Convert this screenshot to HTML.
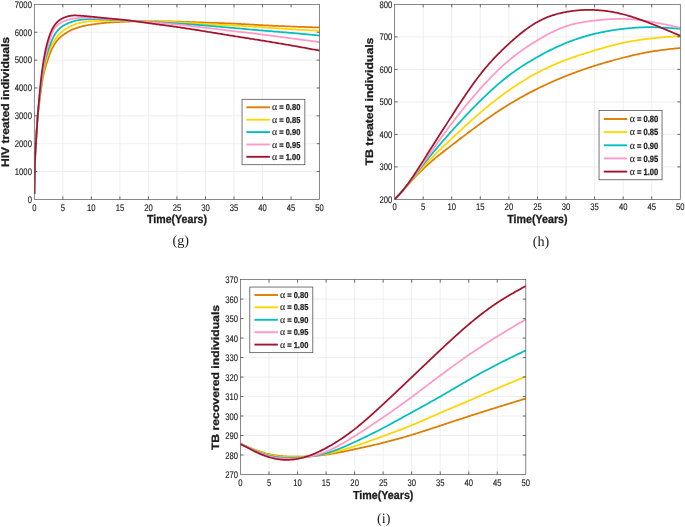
<!DOCTYPE html>
<html><head><meta charset="utf-8"><title>Figure</title>
<style>
html,body{margin:0;padding:0;background:#fff;}
svg{display:block;font-family:"Liberation Sans",sans-serif;}
text{text-rendering:geometricPrecision;}
</style></head><body>
<svg width="685" height="527" viewBox="0 0 685 527">
<rect x="0" y="0" width="685" height="527" fill="#ffffff"/>
<g opacity="0.999">
<line x1="62.83" y1="4.40" x2="62.83" y2="199.40" stroke="#ebebeb" stroke-width="0.8"/>
<line x1="91.36" y1="4.40" x2="91.36" y2="199.40" stroke="#ebebeb" stroke-width="0.8"/>
<line x1="119.89" y1="4.40" x2="119.89" y2="199.40" stroke="#ebebeb" stroke-width="0.8"/>
<line x1="148.42" y1="4.40" x2="148.42" y2="199.40" stroke="#ebebeb" stroke-width="0.8"/>
<line x1="176.95" y1="4.40" x2="176.95" y2="199.40" stroke="#ebebeb" stroke-width="0.8"/>
<line x1="205.48" y1="4.40" x2="205.48" y2="199.40" stroke="#ebebeb" stroke-width="0.8"/>
<line x1="234.01" y1="4.40" x2="234.01" y2="199.40" stroke="#ebebeb" stroke-width="0.8"/>
<line x1="262.54" y1="4.40" x2="262.54" y2="199.40" stroke="#ebebeb" stroke-width="0.8"/>
<line x1="34.30" y1="171.54" x2="319.60" y2="171.54" stroke="#ebebeb" stroke-width="0.8"/>
<line x1="34.30" y1="143.69" x2="319.60" y2="143.69" stroke="#ebebeb" stroke-width="0.8"/>
<line x1="34.30" y1="115.83" x2="319.60" y2="115.83" stroke="#ebebeb" stroke-width="0.8"/>
<line x1="34.30" y1="87.97" x2="319.60" y2="87.97" stroke="#ebebeb" stroke-width="0.8"/>
<line x1="34.30" y1="60.11" x2="319.60" y2="60.11" stroke="#ebebeb" stroke-width="0.8"/>
<line x1="34.30" y1="32.26" x2="319.60" y2="32.26" stroke="#ebebeb" stroke-width="0.8"/>
<clipPath id="cg"><rect x="34.3" y="4.4" width="286.3" height="195.0"/></clipPath><g clip-path="url(#cg)">
<path d="M34.40,194.00 L34.41,193.48 L34.42,192.96 L34.42,192.44 L34.43,191.92 L34.44,191.40 L34.45,190.87 L34.45,190.35 L34.46,189.83 L34.47,189.31 L34.48,188.79 L34.48,188.27 L34.49,187.75 L34.50,187.23 L34.51,186.71 L34.52,186.19 L34.52,185.66 L34.53,185.14 L34.54,184.62 L34.55,184.10 L34.56,183.58 L34.57,183.06 L34.57,182.54 L34.58,182.02 L34.59,181.50 L34.60,180.98 L34.61,180.45 L34.62,179.93 L34.62,179.41 L34.63,178.89 L34.64,178.37 L34.65,177.85 L34.66,177.33 L34.67,176.81 L34.68,176.29 L34.69,175.77 L34.70,175.25 L34.71,174.72 L34.72,174.20 L34.73,173.68 L34.74,173.16 L34.75,172.64 L34.76,172.12 L34.77,171.60 L34.78,171.08 L34.79,170.56 L34.80,170.04 L34.81,169.51 L34.82,168.99 L34.83,168.47 L34.84,167.95 L34.85,167.43 L34.87,166.91 L34.88,166.39 L34.89,165.87 L34.90,165.35 L34.92,164.83 L34.93,164.30 L34.94,163.78 L34.96,163.26 L34.97,162.74 L34.99,162.22 L35.00,161.70 L35.02,161.18 L35.04,160.66 L35.05,160.14 L35.07,159.62 L35.09,159.10 L35.11,158.58 L35.13,158.06 L35.15,157.53 L35.17,157.01 L35.19,156.49 L35.21,155.97 L35.23,155.45 L35.26,154.93 L35.28,154.41 L35.31,153.89 L35.33,153.37 L35.36,152.85 L35.39,152.33 L35.42,151.81 L35.44,151.29 L35.47,150.77 L35.50,150.25 L35.53,149.73 L35.56,149.21 L35.60,148.69 L35.63,148.17 L35.66,147.65 L35.69,147.13 L35.72,146.61 L35.75,146.09 L35.78,145.57 L35.81,145.05 L35.84,144.53 L35.87,144.01 L35.90,143.49 L35.93,142.97 L35.96,142.45 L35.99,141.93 L36.02,141.41 L36.05,140.89 L36.08,140.36 L36.11,139.84 L36.14,139.32 L36.16,138.80 L36.19,138.28 L36.22,137.76 L36.25,137.24 L36.27,136.72 L36.30,136.20 L36.33,135.68 L36.36,135.16 L36.38,134.64 L36.41,134.12 L36.44,133.60 L36.47,133.08 L36.50,132.56 L36.53,132.04 L36.56,131.52 L36.59,130.99 L36.62,130.47 L36.65,129.95 L36.68,129.43 L36.71,128.91 L36.74,128.39 L36.77,127.87 L36.80,127.35 L36.84,126.83 L36.87,126.31 L36.90,125.79 L36.94,125.27 L36.97,124.75 L37.01,124.23 L37.05,123.71 L37.08,123.19 L37.12,122.67 L37.16,122.16 L37.20,121.64 L37.24,121.12 L37.28,120.60 L37.33,120.08 L37.37,119.56 L37.42,119.04 L37.46,118.52 L37.51,118.00 L37.56,117.48 L37.61,116.97 L37.66,116.45 L37.71,115.93 L37.76,115.41 L37.81,114.89 L37.87,114.38 L37.92,113.86 L37.98,113.34 L38.04,112.82 L38.10,112.31 L38.16,111.79 L38.22,111.27 L38.28,110.75 L38.35,110.24 L38.41,109.72 L38.48,109.20 L38.54,108.69 L38.61,108.17 L38.67,107.65 L38.74,107.14 L38.81,106.62 L38.88,106.10 L38.94,105.59 L39.01,105.07 L39.08,104.55 L39.15,104.04 L39.22,103.52 L39.29,103.00 L39.36,102.49 L39.43,101.97 L39.50,101.46 L39.57,100.94 L39.64,100.42 L39.71,99.91 L39.78,99.39 L39.85,98.87 L39.92,98.36 L39.99,97.84 L40.06,97.32 L40.12,96.80 L40.19,96.29 L40.26,95.77 L40.32,95.25 L40.39,94.74 L40.46,94.22 L40.52,93.70 L40.59,93.18 L40.66,92.67 L40.72,92.15 L40.79,91.63 L40.86,91.11 L40.92,90.60 L40.99,90.08 L41.06,89.56 L41.13,89.05 L41.20,88.53 L41.27,88.01 L41.34,87.50 L41.41,86.98 L41.49,86.46 L41.56,85.95 L41.64,85.43 L41.71,84.92 L41.79,84.40 L41.87,83.89 L41.95,83.37 L42.03,82.86 L42.12,82.35 L42.20,81.83 L42.29,81.32 L42.38,80.81 L42.47,80.29 L42.56,79.78 L42.66,79.27 L42.75,78.76 L42.85,78.25 L42.96,77.74 L43.06,77.23 L43.17,76.72 L43.27,76.21 L43.38,75.70 L43.50,75.19 L43.61,74.68 L43.73,74.17 L43.85,73.67 L43.97,73.16 L44.09,72.65 L44.22,72.15 L44.34,71.64 L44.47,71.14 L44.60,70.63 L44.73,70.13 L44.87,69.62 L45.00,69.12 L45.14,68.62 L45.28,68.11 L45.42,67.61 L45.56,67.11 L45.70,66.61 L45.85,66.11 L45.99,65.61 L46.14,65.11 L46.29,64.61 L46.44,64.11 L46.59,63.61 L46.74,63.11 L46.90,62.61 L47.05,62.11 L47.21,61.61 L47.37,61.12 L47.53,60.62 L47.68,60.12 L47.85,59.63 L48.01,59.13 L48.17,58.63 L48.33,58.14 L48.50,57.65 L48.67,57.15 L48.84,56.66 L49.01,56.17 L49.19,55.68 L49.36,55.19 L49.54,54.70 L49.72,54.21 L49.91,53.72 L50.10,53.24 L50.29,52.75 L50.48,52.27 L50.68,51.78 L50.88,51.30 L51.09,50.82 L51.30,50.35 L51.51,49.87 L51.73,49.39 L51.95,48.92 L52.18,48.45 L52.41,47.98 L52.64,47.52 L52.88,47.05 L53.13,46.59 L53.38,46.14 L53.63,45.68 L53.90,45.23 L54.16,44.78 L54.43,44.34 L54.71,43.89 L55.00,43.46 L55.29,43.02 L55.58,42.59 L55.88,42.16 L56.19,41.74 L56.51,41.33 L56.83,40.92 L57.16,40.51 L57.49,40.11 L57.83,39.72 L58.18,39.33 L58.54,38.95 L58.90,38.57 L59.27,38.21 L59.64,37.85 L60.03,37.50 L60.42,37.15 L60.82,36.81 L61.22,36.48 L61.62,36.16 L62.04,35.84 L62.45,35.52 L62.87,35.21 L63.29,34.90 L63.72,34.60 L64.14,34.30 L64.57,34.00 L65.00,33.71 L65.44,33.42 L65.88,33.14 L66.32,32.86 L66.76,32.58 L67.20,32.30 L67.64,32.03 L68.09,31.75 L68.54,31.49 L68.99,31.22 L69.44,30.96 L69.89,30.71 L70.35,30.46 L70.81,30.22 L71.28,29.98 L71.75,29.76 L72.22,29.55 L72.70,29.35 L73.18,29.16 L73.67,28.97 L74.16,28.80 L74.65,28.63 L75.14,28.46 L75.64,28.30 L76.14,28.14 L76.64,27.98 L77.13,27.82 L77.63,27.67 L78.13,27.51 L78.63,27.35 L79.12,27.20 L79.62,27.05 L80.12,26.90 L80.62,26.75 L81.12,26.61 L81.63,26.47 L82.13,26.34 L82.63,26.21 L83.14,26.08 L83.64,25.96 L84.15,25.85 L84.66,25.74 L85.17,25.63 L85.68,25.53 L86.19,25.43 L86.71,25.34 L87.22,25.25 L87.73,25.16 L88.25,25.08 L88.76,24.99 L89.28,24.91 L89.79,24.83 L90.31,24.75 L90.83,24.68 L91.34,24.60 L91.86,24.53 L92.37,24.45 L92.89,24.38 L93.41,24.30 L93.92,24.23 L94.44,24.16 L94.96,24.08 L95.47,24.01 L95.99,23.94 L96.50,23.87 L97.02,23.81 L97.54,23.74 L98.06,23.67 L98.57,23.61 L99.09,23.54 L99.61,23.48 L100.12,23.42 L100.64,23.36 L101.16,23.30 L101.68,23.24 L102.19,23.18 L102.71,23.13 L103.23,23.07 L103.75,23.02 L104.27,22.97 L104.78,22.92 L105.30,22.87 L105.82,22.83 L106.34,22.79 L106.86,22.74 L107.38,22.70 L107.90,22.66 L108.42,22.62 L108.94,22.59 L109.46,22.55 L109.98,22.52 L110.50,22.48 L111.02,22.45 L111.54,22.42 L112.06,22.39 L112.58,22.36 L113.10,22.33 L113.62,22.30 L114.14,22.27 L114.66,22.24 L115.18,22.22 L115.70,22.19 L116.22,22.16 L116.74,22.14 L117.26,22.11 L117.78,22.08 L118.30,22.06 L118.82,22.03 L119.34,22.01 L119.87,21.98 L120.39,21.95 L120.91,21.93 L121.43,21.90 L121.95,21.87 L122.47,21.85 L122.99,21.82 L123.51,21.79 L124.03,21.77 L124.55,21.74 L125.07,21.72 L125.59,21.69 L126.11,21.67 L126.63,21.64 L127.15,21.62 L127.67,21.60 L128.19,21.57 L128.71,21.55 L129.23,21.53 L129.75,21.51 L130.27,21.49 L130.80,21.47 L131.32,21.45 L131.84,21.44 L132.36,21.42 L132.88,21.40 L133.40,21.39 L133.92,21.37 L134.44,21.36 L134.96,21.35 L135.48,21.34 L136.00,21.32 L136.52,21.31 L137.05,21.30 L137.57,21.29 L138.09,21.28 L138.61,21.27 L139.13,21.27 L139.65,21.26 L140.17,21.25 L140.69,21.25 L141.21,21.24 L141.73,21.23 L142.26,21.23 L142.78,21.22 L143.30,21.22 L143.82,21.22 L144.34,21.21 L144.86,21.21 L145.38,21.21 L145.90,21.21 L146.42,21.20 L146.95,21.20 L147.47,21.20 L147.99,21.20 L148.51,21.20 L149.03,21.20 L149.55,21.20 L150.07,21.20 L150.59,21.20 L151.11,21.20 L151.64,21.20 L152.16,21.20 L152.68,21.21 L153.20,21.21 L153.72,21.21 L154.24,21.21 L154.76,21.22 L155.28,21.22 L155.80,21.22 L156.90,21.23 L158.00,21.24 L159.10,21.25 L160.21,21.26 L161.31,21.28 L162.41,21.29 L163.51,21.31 L164.61,21.32 L165.71,21.34 L166.81,21.36 L167.91,21.38 L169.01,21.40 L170.11,21.43 L171.21,21.45 L172.31,21.48 L173.40,21.50 L174.50,21.53 L175.60,21.56 L176.70,21.59 L177.80,21.62 L178.90,21.66 L180.00,21.69 L181.10,21.73 L182.20,21.76 L183.30,21.80 L184.40,21.84 L185.50,21.87 L186.60,21.91 L187.70,21.95 L188.80,21.99 L189.90,22.03 L191.00,22.07 L192.10,22.11 L193.20,22.16 L194.30,22.20 L195.40,22.24 L196.50,22.28 L197.59,22.32 L198.69,22.36 L199.79,22.40 L200.89,22.44 L201.99,22.48 L203.09,22.52 L204.19,22.56 L205.29,22.60 L206.39,22.64 L207.49,22.67 L208.59,22.71 L209.69,22.75 L210.79,22.78 L211.89,22.82 L212.99,22.85 L214.09,22.89 L215.19,22.92 L216.29,22.96 L217.39,22.99 L218.49,23.03 L219.59,23.07 L220.69,23.10 L221.79,23.14 L222.88,23.18 L223.98,23.22 L225.08,23.26 L226.18,23.30 L227.28,23.34 L228.38,23.38 L229.48,23.43 L230.58,23.47 L231.68,23.52 L232.78,23.57 L233.88,23.62 L234.98,23.67 L236.07,23.72 L237.17,23.78 L238.27,23.83 L239.37,23.89 L240.47,23.95 L241.57,24.01 L242.67,24.07 L243.77,24.13 L244.86,24.19 L245.96,24.26 L247.06,24.32 L248.16,24.38 L249.26,24.45 L250.36,24.51 L251.45,24.58 L252.55,24.64 L253.65,24.71 L254.75,24.77 L255.85,24.83 L256.95,24.90 L258.04,24.96 L259.14,25.02 L260.24,25.09 L261.34,25.15 L262.44,25.21 L263.54,25.27 L264.63,25.33 L265.73,25.38 L266.83,25.44 L267.93,25.49 L269.03,25.55 L270.13,25.60 L271.23,25.66 L272.33,25.71 L273.43,25.76 L274.52,25.81 L275.62,25.86 L276.72,25.91 L277.82,25.96 L278.92,26.01 L280.02,26.06 L281.12,26.10 L282.22,26.15 L283.32,26.20 L284.42,26.24 L285.52,26.28 L286.62,26.33 L287.71,26.37 L288.81,26.42 L289.91,26.46 L291.01,26.50 L292.11,26.54 L293.21,26.58 L294.31,26.62 L295.41,26.67 L296.51,26.71 L297.61,26.75 L298.71,26.79 L299.81,26.82 L300.91,26.86 L302.01,26.90 L303.11,26.94 L304.21,26.98 L305.31,27.02 L306.41,27.06 L307.50,27.09 L308.60,27.13 L309.70,27.17 L310.80,27.21 L311.90,27.24 L313.00,27.28 L314.10,27.32 L315.20,27.35 L316.30,27.39 L317.40,27.43 L318.50,27.46 L319.60,27.50" fill="none" stroke="#DE7D00" stroke-width="1.75" stroke-linejoin="round" stroke-linecap="butt"/>
<path d="M34.40,194.00 L34.41,193.48 L34.42,192.96 L34.42,192.44 L34.43,191.92 L34.44,191.40 L34.45,190.87 L34.45,190.35 L34.46,189.83 L34.47,189.31 L34.48,188.79 L34.48,188.27 L34.49,187.75 L34.50,187.23 L34.51,186.71 L34.52,186.19 L34.52,185.66 L34.53,185.14 L34.54,184.62 L34.55,184.10 L34.56,183.58 L34.56,183.06 L34.57,182.54 L34.58,182.02 L34.59,181.50 L34.60,180.98 L34.61,180.45 L34.62,179.93 L34.62,179.41 L34.63,178.89 L34.64,178.37 L34.65,177.85 L34.66,177.33 L34.67,176.81 L34.68,176.29 L34.69,175.77 L34.70,175.25 L34.71,174.72 L34.72,174.20 L34.73,173.68 L34.74,173.16 L34.75,172.64 L34.76,172.12 L34.77,171.60 L34.78,171.08 L34.79,170.56 L34.80,170.04 L34.81,169.51 L34.82,168.99 L34.83,168.47 L34.84,167.95 L34.85,167.43 L34.87,166.91 L34.88,166.39 L34.89,165.87 L34.90,165.35 L34.92,164.83 L34.93,164.30 L34.94,163.78 L34.96,163.26 L34.97,162.74 L34.99,162.22 L35.00,161.70 L35.02,161.18 L35.04,160.66 L35.05,160.14 L35.07,159.62 L35.09,159.10 L35.11,158.58 L35.13,158.06 L35.15,157.53 L35.17,157.01 L35.19,156.49 L35.21,155.97 L35.23,155.45 L35.26,154.93 L35.28,154.41 L35.31,153.89 L35.33,153.37 L35.36,152.85 L35.39,152.33 L35.41,151.81 L35.44,151.29 L35.47,150.77 L35.50,150.25 L35.53,149.73 L35.56,149.21 L35.59,148.69 L35.62,148.17 L35.66,147.65 L35.69,147.13 L35.72,146.61 L35.75,146.09 L35.78,145.57 L35.81,145.05 L35.84,144.53 L35.87,144.01 L35.90,143.49 L35.94,142.97 L35.97,142.45 L36.00,141.93 L36.03,141.41 L36.05,140.89 L36.08,140.37 L36.11,139.85 L36.14,139.32 L36.17,138.80 L36.20,138.28 L36.23,137.76 L36.26,137.24 L36.29,136.72 L36.32,136.20 L36.35,135.68 L36.37,135.16 L36.40,134.64 L36.43,134.12 L36.46,133.60 L36.49,133.08 L36.52,132.56 L36.55,132.04 L36.58,131.52 L36.61,131.00 L36.64,130.48 L36.67,129.96 L36.71,129.44 L36.74,128.92 L36.77,128.40 L36.80,127.88 L36.84,127.36 L36.87,126.84 L36.90,126.32 L36.94,125.80 L36.97,125.28 L37.01,124.76 L37.04,124.24 L37.08,123.72 L37.12,123.20 L37.15,122.68 L37.19,122.16 L37.23,121.64 L37.27,121.12 L37.31,120.60 L37.35,120.08 L37.40,119.56 L37.44,119.04 L37.48,118.52 L37.53,118.01 L37.57,117.49 L37.62,116.97 L37.66,116.45 L37.71,115.93 L37.76,115.41 L37.81,114.89 L37.86,114.38 L37.91,113.86 L37.97,113.34 L38.02,112.82 L38.08,112.30 L38.13,111.78 L38.19,111.27 L38.24,110.75 L38.30,110.23 L38.36,109.71 L38.42,109.20 L38.48,108.68 L38.54,108.16 L38.60,107.64 L38.66,107.13 L38.72,106.61 L38.78,106.09 L38.84,105.57 L38.91,105.06 L38.97,104.54 L39.03,104.02 L39.10,103.50 L39.16,102.99 L39.22,102.47 L39.29,101.95 L39.35,101.44 L39.42,100.92 L39.48,100.40 L39.54,99.88 L39.61,99.37 L39.67,98.85 L39.74,98.33 L39.80,97.81 L39.86,97.30 L39.93,96.78 L39.99,96.26 L40.05,95.75 L40.11,95.23 L40.18,94.71 L40.24,94.19 L40.30,93.68 L40.36,93.16 L40.42,92.64 L40.49,92.12 L40.55,91.61 L40.61,91.09 L40.68,90.57 L40.74,90.05 L40.80,89.54 L40.87,89.02 L40.93,88.50 L41.00,87.99 L41.06,87.47 L41.13,86.95 L41.19,86.43 L41.26,85.92 L41.33,85.40 L41.40,84.88 L41.47,84.37 L41.54,83.85 L41.61,83.34 L41.68,82.82 L41.75,82.30 L41.83,81.79 L41.90,81.27 L41.98,80.76 L42.05,80.24 L42.13,79.73 L42.21,79.21 L42.29,78.70 L42.37,78.18 L42.45,77.67 L42.54,77.15 L42.62,76.64 L42.71,76.13 L42.80,75.61 L42.89,75.10 L42.98,74.59 L43.07,74.07 L43.17,73.56 L43.26,73.05 L43.36,72.54 L43.46,72.02 L43.56,71.51 L43.66,71.00 L43.76,70.49 L43.87,69.98 L43.98,69.47 L44.08,68.96 L44.19,68.45 L44.31,67.94 L44.42,67.43 L44.53,66.92 L44.65,66.42 L44.77,65.91 L44.89,65.40 L45.01,64.89 L45.14,64.39 L45.26,63.88 L45.39,63.38 L45.52,62.87 L45.65,62.37 L45.79,61.86 L45.92,61.36 L46.06,60.86 L46.20,60.35 L46.34,59.85 L46.49,59.35 L46.63,58.85 L46.78,58.35 L46.93,57.85 L47.08,57.35 L47.24,56.85 L47.39,56.35 L47.55,55.85 L47.72,55.36 L47.88,54.86 L48.05,54.37 L48.22,53.88 L48.39,53.38 L48.57,52.89 L48.75,52.40 L48.93,51.91 L49.12,51.43 L49.30,50.94 L49.50,50.45 L49.69,49.97 L49.89,49.49 L50.09,49.01 L50.30,48.53 L50.50,48.05 L50.72,47.57 L50.93,47.10 L51.15,46.63 L51.38,46.15 L51.60,45.68 L51.83,45.22 L52.07,44.75 L52.31,44.29 L52.55,43.83 L52.80,43.37 L53.05,42.91 L53.31,42.46 L53.57,42.00 L53.84,41.56 L54.11,41.11 L54.39,40.67 L54.67,40.23 L54.96,39.80 L55.25,39.37 L55.55,38.94 L55.86,38.52 L56.17,38.10 L56.48,37.69 L56.80,37.28 L57.13,36.87 L57.46,36.47 L57.80,36.07 L58.14,35.67 L58.49,35.28 L58.84,34.89 L59.19,34.51 L59.55,34.13 L59.91,33.76 L60.28,33.38 L60.65,33.02 L61.02,32.65 L61.40,32.30 L61.79,31.95 L62.18,31.60 L62.58,31.27 L62.98,30.94 L63.39,30.61 L63.80,30.30 L64.22,29.99 L64.65,29.70 L65.08,29.41 L65.52,29.12 L65.96,28.84 L66.41,28.57 L66.85,28.30 L67.31,28.04 L67.76,27.79 L68.22,27.53 L68.68,27.28 L69.14,27.04 L69.60,26.80 L70.06,26.56 L70.53,26.33 L71.00,26.10 L71.47,25.88 L71.94,25.66 L72.42,25.45 L72.90,25.24 L73.38,25.04 L73.86,24.85 L74.35,24.66 L74.84,24.47 L75.33,24.30 L75.82,24.12 L76.31,23.96 L76.81,23.79 L77.30,23.63 L77.80,23.48 L78.30,23.33 L78.80,23.19 L79.31,23.05 L79.81,22.92 L80.32,22.79 L80.82,22.67 L81.33,22.55 L81.84,22.44 L82.35,22.34 L82.86,22.24 L83.38,22.15 L83.89,22.06 L84.40,21.98 L84.92,21.90 L85.43,21.83 L85.95,21.77 L86.47,21.71 L86.99,21.65 L87.51,21.60 L88.03,21.55 L88.55,21.50 L89.07,21.46 L89.59,21.42 L90.11,21.38 L90.63,21.34 L91.15,21.31 L91.67,21.28 L92.19,21.25 L92.71,21.22 L93.23,21.20 L93.75,21.17 L94.27,21.15 L94.79,21.13 L95.31,21.11 L95.84,21.09 L96.36,21.07 L96.88,21.05 L97.40,21.04 L97.92,21.02 L98.44,21.01 L98.96,21.00 L99.48,20.98 L100.00,20.97 L100.52,20.96 L101.04,20.95 L101.57,20.94 L102.09,20.94 L102.61,20.93 L103.13,20.92 L103.65,20.91 L104.17,20.91 L104.69,20.90 L105.21,20.90 L105.73,20.89 L106.25,20.89 L106.77,20.88 L107.30,20.88 L107.82,20.87 L108.34,20.87 L108.86,20.86 L109.38,20.86 L109.90,20.85 L110.42,20.85 L110.94,20.85 L111.46,20.84 L111.98,20.84 L112.51,20.84 L113.03,20.83 L113.55,20.83 L114.07,20.83 L114.59,20.82 L115.11,20.82 L115.63,20.82 L116.15,20.81 L116.67,20.81 L117.20,20.81 L117.72,20.81 L118.24,20.80 L118.76,20.80 L119.28,20.80 L119.80,20.80 L120.32,20.80 L120.84,20.79 L121.36,20.79 L121.88,20.79 L122.41,20.79 L122.93,20.79 L123.45,20.79 L123.97,20.78 L124.49,20.78 L125.01,20.78 L125.53,20.78 L126.05,20.78 L126.57,20.78 L127.10,20.79 L127.62,20.79 L128.14,20.79 L128.66,20.79 L129.18,20.79 L129.70,20.80 L130.22,20.80 L130.74,20.81 L131.26,20.81 L131.78,20.82 L132.31,20.83 L132.83,20.83 L133.35,20.84 L133.87,20.85 L134.39,20.86 L134.91,20.87 L135.43,20.88 L135.95,20.89 L136.47,20.90 L136.99,20.91 L137.51,20.92 L138.04,20.93 L138.56,20.94 L139.08,20.95 L139.60,20.97 L140.12,20.98 L140.64,20.99 L141.16,21.01 L141.68,21.02 L142.20,21.03 L142.72,21.05 L143.24,21.06 L143.77,21.07 L144.29,21.09 L144.81,21.10 L145.33,21.12 L145.85,21.13 L146.37,21.15 L146.89,21.16 L147.41,21.17 L147.93,21.19 L148.45,21.20 L148.97,21.22 L149.50,21.23 L150.02,21.25 L150.54,21.26 L151.06,21.28 L151.58,21.29 L152.10,21.30 L153.23,21.34 L154.35,21.37 L155.48,21.40 L156.60,21.43 L157.73,21.46 L158.85,21.50 L159.98,21.53 L161.10,21.56 L162.23,21.60 L163.36,21.64 L164.48,21.67 L165.61,21.71 L166.73,21.75 L167.86,21.80 L168.98,21.84 L170.11,21.88 L171.23,21.93 L172.36,21.98 L173.48,22.03 L174.61,22.08 L175.73,22.14 L176.86,22.19 L177.98,22.25 L179.10,22.31 L180.23,22.38 L181.35,22.44 L182.48,22.51 L183.60,22.58 L184.72,22.65 L185.85,22.72 L186.97,22.79 L188.09,22.86 L189.22,22.94 L190.34,23.01 L191.46,23.09 L192.59,23.16 L193.71,23.24 L194.84,23.32 L195.96,23.39 L197.08,23.47 L198.21,23.54 L199.33,23.62 L200.45,23.69 L201.58,23.76 L202.70,23.84 L203.82,23.91 L204.95,23.98 L206.07,24.05 L207.20,24.11 L208.32,24.18 L209.44,24.24 L210.57,24.31 L211.69,24.37 L212.82,24.43 L213.94,24.49 L215.07,24.55 L216.19,24.61 L217.31,24.67 L218.44,24.72 L219.56,24.78 L220.69,24.84 L221.81,24.90 L222.94,24.95 L224.06,25.01 L225.19,25.07 L226.31,25.12 L227.44,25.18 L228.56,25.24 L229.68,25.30 L230.81,25.36 L231.93,25.42 L233.06,25.48 L234.18,25.54 L235.31,25.60 L236.43,25.66 L237.55,25.73 L238.68,25.79 L239.80,25.86 L240.93,25.92 L242.05,25.99 L243.17,26.06 L244.30,26.13 L245.42,26.20 L246.55,26.27 L247.67,26.34 L248.79,26.41 L249.92,26.48 L251.04,26.55 L252.17,26.62 L253.29,26.70 L254.41,26.77 L255.54,26.85 L256.66,26.92 L257.78,27.00 L258.91,27.07 L260.03,27.15 L261.15,27.22 L262.28,27.30 L263.40,27.37 L264.52,27.45 L265.65,27.53 L266.77,27.61 L267.89,27.68 L269.02,27.76 L270.14,27.84 L271.26,27.91 L272.39,27.99 L273.51,28.07 L274.63,28.14 L275.76,28.22 L276.88,28.29 L278.00,28.37 L279.13,28.45 L280.25,28.52 L281.38,28.59 L282.50,28.67 L283.62,28.74 L284.75,28.81 L285.87,28.88 L286.99,28.95 L288.12,29.02 L289.24,29.09 L290.36,29.16 L291.49,29.23 L292.61,29.30 L293.74,29.36 L294.86,29.43 L295.99,29.49 L297.11,29.55 L298.23,29.61 L299.36,29.68 L300.48,29.74 L301.61,29.80 L302.73,29.86 L303.86,29.91 L304.98,29.97 L306.10,30.03 L307.23,30.09 L308.35,30.14 L309.48,30.20 L310.60,30.26 L311.73,30.31 L312.85,30.37 L313.98,30.42 L315.10,30.48 L316.23,30.54 L317.35,30.59 L318.48,30.65 L319.60,30.70" fill="none" stroke="#FFD600" stroke-width="1.75" stroke-linejoin="round" stroke-linecap="butt"/>
<path d="M34.40,194.00 L34.41,193.48 L34.42,192.96 L34.42,192.44 L34.43,191.92 L34.44,191.40 L34.45,190.87 L34.45,190.35 L34.46,189.83 L34.47,189.31 L34.48,188.79 L34.48,188.27 L34.49,187.75 L34.50,187.23 L34.51,186.71 L34.52,186.19 L34.52,185.66 L34.53,185.14 L34.54,184.62 L34.55,184.10 L34.56,183.58 L34.56,183.06 L34.57,182.54 L34.58,182.02 L34.59,181.50 L34.60,180.98 L34.61,180.45 L34.62,179.93 L34.62,179.41 L34.63,178.89 L34.64,178.37 L34.65,177.85 L34.66,177.33 L34.67,176.81 L34.68,176.29 L34.69,175.77 L34.70,175.25 L34.71,174.72 L34.72,174.20 L34.73,173.68 L34.74,173.16 L34.75,172.64 L34.76,172.12 L34.77,171.60 L34.78,171.08 L34.79,170.56 L34.80,170.04 L34.81,169.51 L34.82,168.99 L34.83,168.47 L34.84,167.95 L34.86,167.43 L34.87,166.91 L34.88,166.39 L34.89,165.87 L34.90,165.35 L34.92,164.83 L34.93,164.30 L34.94,163.78 L34.96,163.26 L34.97,162.74 L34.99,162.22 L35.00,161.70 L35.02,161.18 L35.04,160.66 L35.05,160.14 L35.07,159.62 L35.09,159.10 L35.11,158.58 L35.13,158.06 L35.15,157.53 L35.17,157.01 L35.19,156.49 L35.21,155.97 L35.23,155.45 L35.26,154.93 L35.28,154.41 L35.31,153.89 L35.33,153.37 L35.36,152.85 L35.39,152.33 L35.41,151.81 L35.44,151.29 L35.47,150.77 L35.50,150.25 L35.53,149.73 L35.56,149.21 L35.59,148.69 L35.62,148.17 L35.65,147.65 L35.68,147.13 L35.72,146.61 L35.75,146.09 L35.78,145.57 L35.81,145.05 L35.84,144.53 L35.87,144.01 L35.91,143.49 L35.94,142.97 L35.97,142.45 L36.00,141.93 L36.03,141.41 L36.06,140.89 L36.09,140.37 L36.12,139.85 L36.15,139.33 L36.18,138.81 L36.21,138.29 L36.24,137.77 L36.27,137.25 L36.30,136.72 L36.33,136.20 L36.36,135.68 L36.39,135.16 L36.43,134.64 L36.46,134.12 L36.49,133.60 L36.52,133.08 L36.55,132.56 L36.58,132.04 L36.61,131.52 L36.64,131.00 L36.67,130.48 L36.71,129.96 L36.74,129.44 L36.77,128.92 L36.80,128.40 L36.84,127.88 L36.87,127.36 L36.91,126.84 L36.94,126.32 L36.97,125.80 L37.01,125.28 L37.04,124.76 L37.08,124.24 L37.12,123.72 L37.15,123.20 L37.19,122.68 L37.23,122.16 L37.26,121.64 L37.30,121.13 L37.34,120.61 L37.38,120.09 L37.42,119.57 L37.46,119.05 L37.50,118.53 L37.55,118.01 L37.59,117.49 L37.63,116.97 L37.67,116.45 L37.72,115.93 L37.76,115.41 L37.81,114.89 L37.86,114.37 L37.90,113.86 L37.95,113.34 L38.00,112.82 L38.05,112.30 L38.10,111.78 L38.15,111.26 L38.20,110.74 L38.25,110.22 L38.30,109.71 L38.36,109.19 L38.41,108.67 L38.46,108.15 L38.52,107.63 L38.57,107.11 L38.63,106.60 L38.68,106.08 L38.74,105.56 L38.79,105.04 L38.85,104.52 L38.91,104.01 L38.96,103.49 L39.02,102.97 L39.08,102.45 L39.14,101.93 L39.20,101.42 L39.25,100.90 L39.31,100.38 L39.37,99.86 L39.43,99.35 L39.49,98.83 L39.55,98.31 L39.61,97.79 L39.67,97.28 L39.73,96.76 L39.79,96.24 L39.85,95.72 L39.91,95.21 L39.97,94.69 L40.03,94.17 L40.09,93.65 L40.15,93.14 L40.21,92.62 L40.27,92.10 L40.33,91.59 L40.39,91.07 L40.45,90.55 L40.51,90.03 L40.57,89.52 L40.63,89.00 L40.70,88.48 L40.76,87.96 L40.82,87.45 L40.88,86.93 L40.94,86.41 L41.01,85.90 L41.07,85.38 L41.13,84.86 L41.20,84.34 L41.26,83.83 L41.32,83.31 L41.39,82.79 L41.45,82.28 L41.52,81.76 L41.58,81.24 L41.65,80.72 L41.71,80.21 L41.78,79.69 L41.85,79.17 L41.91,78.65 L41.98,78.14 L42.05,77.62 L42.12,77.10 L42.18,76.58 L42.25,76.07 L42.32,75.55 L42.39,75.03 L42.46,74.51 L42.54,74.00 L42.61,73.48 L42.68,72.96 L42.76,72.45 L42.84,71.93 L42.91,71.41 L42.99,70.90 L43.07,70.38 L43.16,69.87 L43.24,69.35 L43.33,68.84 L43.42,68.33 L43.51,67.81 L43.60,67.30 L43.69,66.79 L43.79,66.27 L43.89,65.76 L43.99,65.25 L44.10,64.74 L44.20,64.23 L44.31,63.72 L44.42,63.21 L44.54,62.71 L44.66,62.20 L44.78,61.69 L44.90,61.19 L45.03,60.68 L45.16,60.18 L45.29,59.68 L45.43,59.17 L45.57,58.67 L45.71,58.17 L45.86,57.67 L46.01,57.17 L46.16,56.67 L46.31,56.17 L46.47,55.68 L46.62,55.18 L46.78,54.68 L46.94,54.19 L47.10,53.69 L47.26,53.20 L47.43,52.70 L47.59,52.21 L47.75,51.71 L47.92,51.22 L48.09,50.72 L48.25,50.23 L48.42,49.74 L48.59,49.24 L48.76,48.75 L48.93,48.26 L49.10,47.77 L49.27,47.27 L49.45,46.78 L49.62,46.29 L49.80,45.80 L49.98,45.31 L50.16,44.82 L50.34,44.34 L50.53,43.85 L50.72,43.36 L50.90,42.88 L51.10,42.39 L51.29,41.91 L51.48,41.42 L51.68,40.94 L51.88,40.45 L52.09,39.97 L52.30,39.49 L52.51,39.02 L52.72,38.54 L52.94,38.06 L53.17,37.59 L53.39,37.12 L53.63,36.66 L53.87,36.19 L54.11,35.73 L54.37,35.28 L54.63,34.83 L54.89,34.38 L55.16,33.93 L55.44,33.49 L55.73,33.06 L56.03,32.63 L56.33,32.20 L56.64,31.79 L56.96,31.37 L57.29,30.97 L57.63,30.57 L57.97,30.17 L58.32,29.79 L58.68,29.41 L59.05,29.04 L59.43,28.68 L59.81,28.33 L60.20,27.99 L60.60,27.65 L61.01,27.33 L61.42,27.01 L61.84,26.70 L62.27,26.40 L62.70,26.11 L63.14,25.83 L63.58,25.55 L64.03,25.29 L64.49,25.03 L64.94,24.78 L65.40,24.53 L65.87,24.29 L66.34,24.06 L66.81,23.84 L67.28,23.62 L67.76,23.41 L68.24,23.20 L68.72,23.00 L69.20,22.80 L69.69,22.61 L70.17,22.42 L70.66,22.24 L71.15,22.06 L71.64,21.89 L72.14,21.72 L72.63,21.56 L73.13,21.40 L73.63,21.25 L74.13,21.11 L74.63,20.97 L75.14,20.83 L75.64,20.71 L76.15,20.59 L76.66,20.48 L77.17,20.37 L77.68,20.27 L78.19,20.18 L78.70,20.09 L79.22,20.01 L79.73,19.93 L80.25,19.86 L80.77,19.79 L81.28,19.73 L81.80,19.67 L82.32,19.61 L82.84,19.56 L83.36,19.51 L83.88,19.46 L84.40,19.42 L84.92,19.38 L85.44,19.34 L85.96,19.30 L86.48,19.27 L87.00,19.24 L87.52,19.22 L88.04,19.19 L88.56,19.17 L89.08,19.15 L89.60,19.14 L90.12,19.12 L90.64,19.11 L91.17,19.10 L91.69,19.10 L92.21,19.09 L92.73,19.09 L93.25,19.09 L93.77,19.10 L94.29,19.10 L94.81,19.11 L95.33,19.12 L95.85,19.13 L96.38,19.14 L96.90,19.16 L97.42,19.17 L97.94,19.19 L98.46,19.20 L98.98,19.22 L99.50,19.24 L100.02,19.27 L100.54,19.29 L101.06,19.31 L101.58,19.33 L102.10,19.36 L102.63,19.38 L103.15,19.41 L103.67,19.43 L104.19,19.46 L104.71,19.48 L105.23,19.51 L105.75,19.54 L106.27,19.56 L106.79,19.59 L107.31,19.61 L107.83,19.64 L108.35,19.66 L108.87,19.69 L109.39,19.71 L109.91,19.74 L110.43,19.77 L110.95,19.79 L111.47,19.82 L111.99,19.84 L112.51,19.87 L113.04,19.89 L113.56,19.92 L114.08,19.94 L114.60,19.97 L115.12,19.99 L115.64,20.02 L116.16,20.04 L116.68,20.07 L117.20,20.09 L117.72,20.12 L118.24,20.14 L118.76,20.16 L119.28,20.19 L119.80,20.21 L120.32,20.24 L120.84,20.26 L121.36,20.29 L121.88,20.31 L122.40,20.33 L122.92,20.36 L123.44,20.38 L123.96,20.41 L124.48,20.43 L125.01,20.45 L125.53,20.48 L126.05,20.50 L126.57,20.53 L127.09,20.55 L127.61,20.58 L128.13,20.60 L128.65,20.63 L129.17,20.66 L129.69,20.68 L130.21,20.71 L130.73,20.74 L131.25,20.77 L131.77,20.80 L132.29,20.83 L132.81,20.86 L133.33,20.89 L133.85,20.92 L134.37,20.95 L134.89,20.98 L135.41,21.01 L135.93,21.04 L136.45,21.07 L136.97,21.10 L137.49,21.13 L138.01,21.16 L138.53,21.20 L139.05,21.23 L139.57,21.26 L140.09,21.29 L140.61,21.33 L141.13,21.36 L141.65,21.39 L142.17,21.42 L142.69,21.46 L143.21,21.49 L143.73,21.52 L144.25,21.55 L144.77,21.59 L145.29,21.62 L145.81,21.65 L146.33,21.68 L146.85,21.71 L147.37,21.74 L147.89,21.78 L149.05,21.84 L150.20,21.91 L151.36,21.98 L152.51,22.04 L153.66,22.11 L154.82,22.17 L155.97,22.23 L157.13,22.30 L158.28,22.36 L159.44,22.42 L160.59,22.48 L161.75,22.54 L162.90,22.61 L164.05,22.67 L165.21,22.73 L166.36,22.79 L167.52,22.85 L168.67,22.92 L169.83,22.98 L170.98,23.05 L172.14,23.11 L173.29,23.18 L174.44,23.25 L175.60,23.31 L176.75,23.39 L177.91,23.46 L179.06,23.53 L180.21,23.60 L181.37,23.68 L182.52,23.76 L183.67,23.83 L184.83,23.91 L185.98,23.99 L187.13,24.08 L188.29,24.16 L189.44,24.24 L190.59,24.33 L191.75,24.41 L192.90,24.50 L194.05,24.59 L195.21,24.68 L196.36,24.77 L197.51,24.86 L198.66,24.95 L199.82,25.05 L200.97,25.14 L202.12,25.23 L203.27,25.33 L204.42,25.43 L205.58,25.52 L206.73,25.62 L207.88,25.72 L209.03,25.82 L210.18,25.92 L211.34,26.02 L212.49,26.12 L213.64,26.22 L214.79,26.32 L215.94,26.42 L217.09,26.53 L218.25,26.63 L219.40,26.73 L220.55,26.83 L221.70,26.94 L222.85,27.04 L224.00,27.15 L225.16,27.25 L226.31,27.35 L227.46,27.46 L228.61,27.56 L229.76,27.66 L230.91,27.77 L232.06,27.87 L233.22,27.97 L234.37,28.08 L235.52,28.18 L236.67,28.28 L237.82,28.39 L238.97,28.49 L240.13,28.59 L241.28,28.69 L242.43,28.79 L243.58,28.89 L244.73,28.99 L245.88,29.10 L247.04,29.20 L248.19,29.30 L249.34,29.40 L250.49,29.50 L251.64,29.59 L252.80,29.69 L253.95,29.79 L255.10,29.89 L256.25,29.99 L257.40,30.09 L258.56,30.18 L259.71,30.28 L260.86,30.38 L262.01,30.48 L263.16,30.57 L264.32,30.67 L265.47,30.76 L266.62,30.86 L267.77,30.96 L268.92,31.05 L270.08,31.15 L271.23,31.24 L272.38,31.34 L273.53,31.43 L274.69,31.53 L275.84,31.62 L276.99,31.72 L278.14,31.81 L279.29,31.91 L280.45,32.00 L281.60,32.10 L282.75,32.20 L283.90,32.29 L285.06,32.39 L286.21,32.49 L287.36,32.59 L288.51,32.69 L289.66,32.78 L290.81,32.88 L291.97,32.98 L293.12,33.08 L294.27,33.19 L295.42,33.29 L296.57,33.39 L297.72,33.49 L298.88,33.60 L300.03,33.70 L301.18,33.80 L302.33,33.91 L303.48,34.01 L304.63,34.12 L305.79,34.22 L306.94,34.33 L308.09,34.43 L309.24,34.54 L310.39,34.65 L311.54,34.75 L312.69,34.86 L313.84,34.97 L315.00,35.07 L316.15,35.18 L317.30,35.29 L318.45,35.39 L319.60,35.50" fill="none" stroke="#00BFBF" stroke-width="1.75" stroke-linejoin="round" stroke-linecap="butt"/>
<path d="M34.40,194.00 L34.41,193.48 L34.42,192.96 L34.42,192.44 L34.43,191.92 L34.44,191.40 L34.45,190.87 L34.45,190.35 L34.46,189.83 L34.47,189.31 L34.48,188.79 L34.48,188.27 L34.49,187.75 L34.50,187.23 L34.51,186.71 L34.52,186.19 L34.52,185.66 L34.53,185.14 L34.54,184.62 L34.55,184.10 L34.56,183.58 L34.56,183.06 L34.57,182.54 L34.58,182.02 L34.59,181.50 L34.60,180.98 L34.61,180.45 L34.61,179.93 L34.62,179.41 L34.63,178.89 L34.64,178.37 L34.65,177.85 L34.66,177.33 L34.67,176.81 L34.68,176.29 L34.69,175.77 L34.70,175.25 L34.71,174.72 L34.72,174.20 L34.73,173.68 L34.74,173.16 L34.75,172.64 L34.76,172.12 L34.77,171.60 L34.78,171.08 L34.79,170.56 L34.80,170.04 L34.81,169.51 L34.82,168.99 L34.83,168.47 L34.84,167.95 L34.86,167.43 L34.87,166.91 L34.88,166.39 L34.89,165.87 L34.90,165.35 L34.92,164.83 L34.93,164.30 L34.95,163.78 L34.96,163.26 L34.97,162.74 L34.99,162.22 L35.01,161.70 L35.02,161.18 L35.04,160.66 L35.05,160.14 L35.07,159.62 L35.09,159.10 L35.11,158.58 L35.13,158.06 L35.15,157.53 L35.17,157.01 L35.19,156.49 L35.21,155.97 L35.23,155.45 L35.26,154.93 L35.28,154.41 L35.31,153.89 L35.33,153.37 L35.36,152.85 L35.39,152.33 L35.41,151.81 L35.44,151.29 L35.47,150.77 L35.50,150.25 L35.53,149.73 L35.56,149.21 L35.59,148.69 L35.62,148.17 L35.65,147.65 L35.68,147.13 L35.71,146.61 L35.75,146.09 L35.78,145.57 L35.81,145.05 L35.84,144.53 L35.87,144.01 L35.91,143.49 L35.94,142.97 L35.97,142.45 L36.00,141.93 L36.03,141.41 L36.06,140.89 L36.09,140.37 L36.13,139.85 L36.16,139.33 L36.19,138.81 L36.22,138.29 L36.25,137.77 L36.28,137.25 L36.31,136.73 L36.35,136.21 L36.38,135.69 L36.41,135.17 L36.44,134.64 L36.47,134.12 L36.50,133.60 L36.54,133.08 L36.57,132.56 L36.60,132.04 L36.63,131.52 L36.66,131.00 L36.70,130.48 L36.73,129.96 L36.76,129.44 L36.80,128.92 L36.83,128.40 L36.86,127.88 L36.90,127.36 L36.93,126.84 L36.97,126.32 L37.00,125.80 L37.03,125.28 L37.07,124.76 L37.11,124.24 L37.14,123.73 L37.18,123.21 L37.21,122.69 L37.25,122.17 L37.29,121.65 L37.33,121.13 L37.36,120.61 L37.40,120.09 L37.44,119.57 L37.48,119.05 L37.52,118.53 L37.56,118.01 L37.60,117.49 L37.64,116.97 L37.68,116.45 L37.72,115.93 L37.77,115.41 L37.81,114.89 L37.85,114.37 L37.90,113.86 L37.94,113.34 L37.99,112.82 L38.03,112.30 L38.08,111.78 L38.12,111.26 L38.17,110.74 L38.22,110.22 L38.26,109.70 L38.31,109.18 L38.36,108.67 L38.41,108.15 L38.46,107.63 L38.51,107.11 L38.55,106.59 L38.60,106.07 L38.65,105.55 L38.70,105.03 L38.75,104.52 L38.80,104.00 L38.86,103.48 L38.91,102.96 L38.96,102.44 L39.01,101.92 L39.06,101.40 L39.11,100.89 L39.16,100.37 L39.21,99.85 L39.27,99.33 L39.32,98.81 L39.37,98.29 L39.42,97.77 L39.47,97.26 L39.53,96.74 L39.58,96.22 L39.63,95.70 L39.68,95.18 L39.73,94.66 L39.79,94.15 L39.84,93.63 L39.89,93.11 L39.94,92.59 L40.00,92.07 L40.05,91.55 L40.10,91.03 L40.16,90.52 L40.21,90.00 L40.26,89.48 L40.32,88.96 L40.37,88.44 L40.43,87.93 L40.48,87.41 L40.54,86.89 L40.60,86.37 L40.65,85.85 L40.71,85.34 L40.77,84.82 L40.83,84.30 L40.89,83.78 L40.95,83.26 L41.01,82.75 L41.07,82.23 L41.13,81.71 L41.20,81.20 L41.26,80.68 L41.32,80.16 L41.39,79.64 L41.45,79.13 L41.52,78.61 L41.59,78.09 L41.66,77.58 L41.73,77.06 L41.80,76.54 L41.87,76.03 L41.94,75.51 L42.01,75.00 L42.09,74.48 L42.16,73.97 L42.24,73.45 L42.31,72.93 L42.39,72.42 L42.47,71.90 L42.55,71.39 L42.63,70.87 L42.71,70.36 L42.79,69.85 L42.88,69.33 L42.96,68.82 L43.05,68.30 L43.14,67.79 L43.22,67.28 L43.31,66.76 L43.40,66.25 L43.50,65.74 L43.59,65.22 L43.68,64.71 L43.78,64.20 L43.87,63.69 L43.97,63.17 L44.07,62.66 L44.17,62.15 L44.27,61.64 L44.37,61.13 L44.47,60.62 L44.58,60.10 L44.68,59.59 L44.79,59.08 L44.90,58.57 L45.01,58.06 L45.12,57.55 L45.23,57.04 L45.34,56.53 L45.46,56.03 L45.57,55.52 L45.69,55.01 L45.80,54.50 L45.92,53.99 L46.04,53.49 L46.16,52.98 L46.28,52.47 L46.40,51.97 L46.52,51.46 L46.65,50.95 L46.77,50.45 L46.90,49.94 L47.03,49.44 L47.15,48.93 L47.28,48.43 L47.41,47.93 L47.54,47.42 L47.68,46.92 L47.81,46.42 L47.94,45.91 L48.08,45.41 L48.22,44.91 L48.35,44.41 L48.49,43.91 L48.64,43.41 L48.78,42.91 L48.92,42.41 L49.07,41.91 L49.22,41.41 L49.37,40.91 L49.52,40.42 L49.68,39.92 L49.84,39.42 L50.00,38.92 L50.16,38.43 L50.33,37.93 L50.50,37.44 L50.67,36.94 L50.84,36.45 L51.02,35.95 L51.20,35.46 L51.38,34.97 L51.57,34.47 L51.76,33.98 L51.95,33.49 L52.15,33.00 L52.36,32.51 L52.57,32.03 L52.79,31.55 L53.02,31.08 L53.25,30.61 L53.50,30.15 L53.75,29.69 L54.02,29.24 L54.29,28.80 L54.58,28.37 L54.88,27.95 L55.19,27.54 L55.52,27.14 L55.86,26.75 L56.21,26.37 L56.58,26.01 L56.96,25.65 L57.35,25.31 L57.75,24.97 L58.16,24.65 L58.57,24.33 L59.00,24.03 L59.43,23.73 L59.87,23.45 L60.31,23.17 L60.76,22.90 L61.22,22.64 L61.68,22.39 L62.14,22.15 L62.61,21.92 L63.08,21.69 L63.55,21.47 L64.03,21.27 L64.51,21.06 L64.99,20.87 L65.48,20.68 L65.97,20.50 L66.46,20.33 L66.96,20.17 L67.46,20.01 L67.95,19.86 L68.46,19.72 L68.96,19.58 L69.46,19.45 L69.97,19.33 L70.48,19.21 L70.99,19.10 L71.50,18.99 L72.01,18.89 L72.52,18.79 L73.03,18.70 L73.55,18.61 L74.06,18.53 L74.58,18.45 L75.09,18.38 L75.61,18.31 L76.13,18.24 L76.65,18.17 L77.16,18.11 L77.68,18.05 L78.20,18.00 L78.72,17.95 L79.24,17.90 L79.76,17.86 L80.28,17.82 L80.80,17.79 L81.32,17.76 L81.84,17.73 L82.36,17.72 L82.88,17.70 L83.40,17.69 L83.92,17.69 L84.44,17.69 L84.96,17.70 L85.48,17.71 L86.00,17.72 L86.52,17.74 L87.04,17.76 L87.56,17.78 L88.09,17.81 L88.61,17.83 L89.13,17.86 L89.65,17.89 L90.17,17.92 L90.69,17.95 L91.21,17.98 L91.73,18.01 L92.25,18.04 L92.77,18.07 L93.29,18.10 L93.81,18.14 L94.33,18.17 L94.85,18.20 L95.37,18.23 L95.89,18.26 L96.41,18.29 L96.93,18.32 L97.45,18.35 L97.97,18.38 L98.50,18.41 L99.02,18.44 L99.54,18.47 L100.06,18.50 L100.58,18.53 L101.10,18.56 L101.62,18.59 L102.14,18.62 L102.65,18.66 L103.17,18.69 L103.69,18.72 L104.21,18.75 L104.73,18.78 L105.25,18.82 L105.77,18.85 L106.29,18.88 L106.81,18.92 L107.33,18.95 L107.85,18.98 L108.37,19.02 L108.89,19.05 L109.41,19.09 L109.93,19.12 L110.45,19.16 L110.97,19.19 L111.49,19.23 L112.01,19.26 L112.53,19.30 L113.05,19.33 L113.57,19.37 L114.09,19.41 L114.61,19.44 L115.13,19.48 L115.65,19.52 L116.17,19.56 L116.69,19.59 L117.21,19.63 L117.73,19.67 L118.25,19.71 L118.77,19.75 L119.29,19.78 L119.81,19.82 L120.33,19.86 L120.85,19.90 L121.37,19.94 L121.89,19.98 L122.41,20.02 L122.93,20.06 L123.45,20.10 L123.97,20.14 L124.48,20.18 L125.00,20.22 L125.52,20.26 L126.04,20.30 L126.56,20.34 L127.08,20.38 L127.60,20.42 L128.12,20.46 L128.64,20.50 L129.16,20.54 L129.68,20.58 L130.20,20.61 L130.72,20.65 L131.24,20.69 L131.76,20.73 L132.28,20.77 L132.80,20.81 L133.32,20.85 L133.84,20.89 L134.36,20.93 L134.88,20.97 L135.39,21.01 L135.91,21.05 L136.43,21.09 L136.95,21.13 L137.47,21.17 L137.99,21.21 L138.51,21.25 L139.03,21.29 L139.55,21.33 L140.07,21.37 L140.59,21.41 L141.11,21.45 L141.63,21.49 L142.15,21.53 L142.67,21.57 L143.19,21.60 L143.71,21.64 L144.89,21.74 L146.08,21.83 L147.26,21.92 L148.45,22.01 L149.63,22.10 L150.82,22.20 L152.00,22.29 L153.19,22.39 L154.37,22.48 L155.56,22.58 L156.74,22.67 L157.93,22.77 L159.11,22.87 L160.30,22.97 L161.48,23.07 L162.66,23.17 L163.85,23.27 L165.03,23.38 L166.22,23.48 L167.40,23.59 L168.58,23.69 L169.77,23.80 L170.95,23.91 L172.13,24.03 L173.32,24.14 L174.50,24.25 L175.68,24.37 L176.87,24.49 L178.05,24.61 L179.23,24.73 L180.41,24.85 L181.60,24.97 L182.78,25.10 L183.96,25.23 L185.14,25.36 L186.32,25.49 L187.50,25.62 L188.68,25.75 L189.87,25.88 L191.05,26.02 L192.23,26.15 L193.41,26.29 L194.59,26.43 L195.77,26.56 L196.95,26.70 L198.13,26.84 L199.31,26.98 L200.49,27.12 L201.67,27.26 L202.85,27.41 L204.03,27.55 L205.21,27.69 L206.39,27.83 L207.57,27.97 L208.75,28.12 L209.93,28.26 L211.11,28.40 L212.29,28.55 L213.47,28.69 L214.65,28.83 L215.83,28.98 L217.01,29.12 L218.19,29.26 L219.37,29.41 L220.55,29.55 L221.73,29.69 L222.91,29.84 L224.09,29.98 L225.27,30.12 L226.45,30.26 L227.63,30.40 L228.81,30.54 L229.99,30.68 L231.17,30.82 L232.35,30.96 L233.53,31.10 L234.71,31.24 L235.89,31.38 L237.08,31.52 L238.26,31.66 L239.44,31.79 L240.62,31.93 L241.80,32.07 L242.98,32.20 L244.16,32.34 L245.34,32.48 L246.52,32.61 L247.70,32.75 L248.88,32.89 L250.06,33.03 L251.24,33.17 L252.42,33.30 L253.60,33.44 L254.78,33.58 L255.96,33.73 L257.14,33.87 L258.32,34.01 L259.50,34.15 L260.68,34.30 L261.86,34.45 L263.04,34.59 L264.22,34.74 L265.40,34.89 L266.58,35.04 L267.76,35.19 L268.94,35.35 L270.12,35.50 L271.30,35.65 L272.47,35.81 L273.65,35.96 L274.83,36.12 L276.01,36.28 L277.19,36.44 L278.36,36.59 L279.54,36.75 L280.72,36.91 L281.90,37.07 L283.08,37.23 L284.25,37.39 L285.43,37.55 L286.61,37.71 L287.79,37.87 L288.97,38.03 L290.14,38.18 L291.32,38.34 L292.50,38.50 L293.68,38.66 L294.86,38.82 L296.03,38.98 L297.21,39.13 L298.39,39.29 L299.57,39.45 L300.75,39.61 L301.93,39.76 L303.10,39.92 L304.28,40.08 L305.46,40.23 L306.64,40.39 L307.82,40.54 L308.99,40.70 L310.17,40.86 L311.35,41.01 L312.53,41.17 L313.71,41.32 L314.89,41.48 L316.06,41.63 L317.24,41.79 L318.42,41.94 L319.60,42.10" fill="none" stroke="#FF99C7" stroke-width="1.75" stroke-linejoin="round" stroke-linecap="butt"/>
<path d="M34.40,194.00 L34.41,193.48 L34.42,192.96 L34.42,192.44 L34.43,191.92 L34.44,191.40 L34.45,190.87 L34.45,190.35 L34.46,189.83 L34.47,189.31 L34.48,188.79 L34.48,188.27 L34.49,187.75 L34.50,187.23 L34.51,186.71 L34.52,186.19 L34.52,185.66 L34.53,185.14 L34.54,184.62 L34.55,184.10 L34.56,183.58 L34.56,183.06 L34.57,182.54 L34.58,182.02 L34.59,181.50 L34.60,180.98 L34.61,180.45 L34.61,179.93 L34.62,179.41 L34.63,178.89 L34.64,178.37 L34.65,177.85 L34.66,177.33 L34.67,176.81 L34.68,176.29 L34.69,175.77 L34.70,175.25 L34.71,174.72 L34.72,174.20 L34.73,173.68 L34.74,173.16 L34.75,172.64 L34.76,172.12 L34.77,171.60 L34.78,171.08 L34.79,170.56 L34.80,170.04 L34.81,169.51 L34.82,168.99 L34.83,168.47 L34.84,167.95 L34.86,167.43 L34.87,166.91 L34.88,166.39 L34.89,165.87 L34.91,165.35 L34.92,164.83 L34.93,164.30 L34.95,163.78 L34.96,163.26 L34.98,162.74 L34.99,162.22 L35.01,161.70 L35.02,161.18 L35.04,160.66 L35.06,160.14 L35.07,159.62 L35.09,159.10 L35.11,158.58 L35.13,158.06 L35.15,157.53 L35.17,157.01 L35.19,156.49 L35.21,155.97 L35.23,155.45 L35.26,154.93 L35.28,154.41 L35.31,153.89 L35.33,153.37 L35.36,152.85 L35.38,152.33 L35.41,151.81 L35.44,151.29 L35.47,150.77 L35.50,150.25 L35.53,149.73 L35.56,149.21 L35.59,148.69 L35.62,148.17 L35.65,147.65 L35.68,147.13 L35.71,146.61 L35.74,146.09 L35.78,145.57 L35.81,145.05 L35.84,144.53 L35.87,144.01 L35.91,143.49 L35.94,142.97 L35.97,142.45 L36.00,141.93 L36.04,141.41 L36.07,140.89 L36.10,140.37 L36.13,139.85 L36.16,139.33 L36.20,138.81 L36.23,138.29 L36.26,137.77 L36.29,137.25 L36.33,136.73 L36.36,136.21 L36.39,135.69 L36.43,135.17 L36.46,134.65 L36.49,134.13 L36.52,133.61 L36.56,133.09 L36.59,132.57 L36.62,132.05 L36.66,131.53 L36.69,131.01 L36.72,130.49 L36.76,129.97 L36.79,129.45 L36.83,128.93 L36.86,128.41 L36.89,127.89 L36.93,127.37 L36.96,126.85 L37.00,126.33 L37.03,125.81 L37.07,125.29 L37.10,124.77 L37.14,124.25 L37.17,123.73 L37.21,123.21 L37.24,122.69 L37.28,122.17 L37.32,121.65 L37.35,121.13 L37.39,120.61 L37.43,120.09 L37.46,119.57 L37.50,119.05 L37.54,118.53 L37.58,118.01 L37.61,117.49 L37.65,116.97 L37.69,116.45 L37.73,115.93 L37.77,115.41 L37.81,114.89 L37.85,114.37 L37.89,113.85 L37.93,113.33 L37.97,112.82 L38.01,112.30 L38.05,111.78 L38.09,111.26 L38.13,110.74 L38.17,110.22 L38.21,109.70 L38.26,109.18 L38.30,108.66 L38.34,108.14 L38.38,107.62 L38.43,107.10 L38.47,106.58 L38.51,106.06 L38.56,105.54 L38.60,105.03 L38.64,104.51 L38.69,103.99 L38.73,103.47 L38.78,102.95 L38.82,102.43 L38.87,101.91 L38.91,101.39 L38.96,100.87 L39.00,100.35 L39.05,99.83 L39.09,99.32 L39.14,98.80 L39.19,98.28 L39.23,97.76 L39.28,97.24 L39.32,96.72 L39.37,96.20 L39.42,95.68 L39.47,95.16 L39.51,94.64 L39.56,94.13 L39.61,93.61 L39.66,93.09 L39.70,92.57 L39.75,92.05 L39.80,91.53 L39.85,91.01 L39.90,90.49 L39.95,89.97 L40.00,89.46 L40.05,88.94 L40.10,88.42 L40.15,87.90 L40.20,87.38 L40.25,86.86 L40.30,86.34 L40.36,85.83 L40.41,85.31 L40.46,84.79 L40.52,84.27 L40.57,83.75 L40.62,83.24 L40.68,82.72 L40.73,82.20 L40.79,81.68 L40.85,81.16 L40.90,80.64 L40.96,80.13 L41.02,79.61 L41.08,79.09 L41.13,78.57 L41.19,78.06 L41.25,77.54 L41.31,77.02 L41.38,76.50 L41.44,75.99 L41.50,75.47 L41.56,74.95 L41.63,74.43 L41.69,73.92 L41.75,73.40 L41.82,72.88 L41.89,72.37 L41.95,71.85 L42.02,71.33 L42.09,70.82 L42.16,70.30 L42.23,69.78 L42.30,69.27 L42.37,68.75 L42.44,68.23 L42.51,67.72 L42.59,67.20 L42.66,66.69 L42.74,66.17 L42.81,65.66 L42.89,65.14 L42.97,64.62 L43.04,64.11 L43.12,63.59 L43.20,63.08 L43.28,62.56 L43.37,62.05 L43.45,61.54 L43.53,61.02 L43.62,60.51 L43.70,59.99 L43.79,59.48 L43.87,58.96 L43.96,58.45 L44.05,57.94 L44.14,57.42 L44.23,56.91 L44.32,56.40 L44.42,55.88 L44.51,55.37 L44.61,54.86 L44.71,54.35 L44.80,53.84 L44.90,53.32 L45.00,52.81 L45.11,52.30 L45.21,51.79 L45.31,51.28 L45.42,50.77 L45.53,50.26 L45.64,49.75 L45.75,49.24 L45.86,48.73 L45.98,48.22 L46.09,47.72 L46.21,47.21 L46.33,46.70 L46.45,46.19 L46.57,45.69 L46.70,45.18 L46.82,44.67 L46.95,44.17 L47.08,43.66 L47.21,43.16 L47.35,42.66 L47.48,42.15 L47.62,41.65 L47.76,41.15 L47.90,40.64 L48.05,40.14 L48.20,39.64 L48.35,39.14 L48.50,38.64 L48.65,38.15 L48.81,37.65 L48.98,37.15 L49.14,36.66 L49.31,36.16 L49.48,35.67 L49.66,35.18 L49.84,34.69 L50.02,34.20 L50.21,33.72 L50.40,33.23 L50.60,32.75 L50.80,32.27 L51.01,31.79 L51.22,31.31 L51.43,30.83 L51.65,30.36 L51.88,29.89 L52.11,29.42 L52.35,28.95 L52.59,28.49 L52.84,28.03 L53.10,27.57 L53.36,27.12 L53.63,26.68 L53.91,26.23 L54.20,25.80 L54.49,25.36 L54.79,24.94 L55.10,24.52 L55.42,24.11 L55.75,23.70 L56.08,23.30 L56.43,22.91 L56.78,22.52 L57.15,22.15 L57.52,21.78 L57.90,21.43 L58.29,21.08 L58.69,20.75 L59.10,20.43 L59.52,20.12 L59.94,19.82 L60.38,19.54 L60.82,19.26 L61.27,19.00 L61.73,18.75 L62.19,18.51 L62.66,18.27 L63.13,18.05 L63.61,17.84 L64.09,17.63 L64.57,17.44 L65.06,17.25 L65.55,17.07 L66.05,16.90 L66.54,16.74 L67.04,16.58 L67.55,16.44 L68.05,16.30 L68.56,16.18 L69.06,16.06 L69.57,15.95 L70.09,15.85 L70.60,15.76 L71.11,15.69 L71.63,15.62 L72.15,15.56 L72.67,15.52 L73.18,15.49 L73.70,15.46 L74.23,15.45 L74.75,15.45 L75.27,15.45 L75.79,15.46 L76.31,15.48 L76.83,15.50 L77.35,15.52 L77.87,15.55 L78.39,15.58 L78.91,15.62 L79.43,15.65 L79.95,15.69 L80.47,15.73 L80.99,15.77 L81.51,15.81 L82.03,15.85 L82.55,15.90 L83.07,15.94 L83.59,15.98 L84.11,16.02 L84.63,16.06 L85.15,16.11 L85.67,16.15 L86.19,16.19 L86.71,16.24 L87.23,16.28 L87.75,16.32 L88.27,16.37 L88.78,16.41 L89.30,16.46 L89.82,16.51 L90.34,16.55 L90.86,16.60 L91.38,16.65 L91.90,16.70 L92.42,16.75 L92.93,16.81 L93.45,16.86 L93.97,16.91 L94.49,16.97 L95.01,17.02 L95.52,17.08 L96.04,17.13 L96.56,17.19 L97.08,17.25 L97.60,17.30 L98.11,17.36 L98.63,17.42 L99.15,17.48 L99.67,17.53 L100.19,17.59 L100.70,17.65 L101.22,17.70 L101.74,17.76 L102.26,17.81 L102.78,17.87 L103.29,17.92 L103.81,17.98 L104.33,18.03 L104.85,18.08 L105.37,18.13 L105.89,18.18 L106.41,18.23 L106.92,18.28 L107.44,18.33 L107.96,18.38 L108.48,18.42 L109.00,18.47 L109.52,18.51 L110.04,18.56 L110.56,18.60 L111.08,18.65 L111.60,18.69 L112.11,18.74 L112.63,18.78 L113.15,18.83 L113.67,18.87 L114.19,18.92 L114.71,18.96 L115.23,19.01 L115.75,19.05 L116.27,19.10 L116.79,19.15 L117.31,19.19 L117.82,19.24 L118.34,19.29 L118.86,19.34 L119.38,19.39 L119.90,19.44 L120.42,19.49 L120.94,19.55 L121.45,19.60 L121.97,19.66 L122.49,19.71 L123.01,19.77 L123.53,19.82 L124.04,19.88 L124.56,19.94 L125.08,20.00 L125.60,20.06 L126.11,20.12 L126.63,20.18 L127.15,20.25 L127.67,20.31 L128.18,20.37 L128.70,20.44 L129.22,20.50 L129.73,20.57 L130.25,20.63 L130.77,20.70 L131.28,20.76 L131.80,20.83 L132.32,20.90 L132.83,20.97 L133.35,21.04 L133.87,21.10 L134.38,21.17 L134.90,21.24 L135.42,21.31 L135.93,21.38 L136.45,21.45 L136.97,21.52 L137.48,21.59 L138.00,21.67 L138.51,21.74 L139.03,21.81 L139.55,21.88 L140.06,21.95 L141.27,22.12 L142.48,22.29 L143.69,22.46 L144.90,22.63 L146.11,22.80 L147.31,22.96 L148.52,23.13 L149.73,23.30 L150.94,23.46 L152.15,23.62 L153.36,23.79 L154.57,23.95 L155.78,24.11 L156.99,24.27 L158.20,24.44 L159.41,24.60 L160.62,24.76 L161.83,24.92 L163.04,25.08 L164.25,25.24 L165.46,25.41 L166.67,25.57 L167.87,25.73 L169.08,25.90 L170.29,26.06 L171.50,26.23 L172.71,26.39 L173.92,26.56 L175.13,26.73 L176.34,26.91 L177.54,27.08 L178.75,27.25 L179.96,27.43 L181.17,27.61 L182.37,27.79 L183.58,27.97 L184.79,28.15 L185.99,28.33 L187.20,28.52 L188.40,28.70 L189.61,28.89 L190.82,29.08 L192.02,29.27 L193.23,29.46 L194.43,29.65 L195.64,29.84 L196.84,30.03 L198.05,30.23 L199.25,30.42 L200.46,30.61 L201.66,30.81 L202.87,31.00 L204.07,31.20 L205.28,31.40 L206.48,31.59 L207.69,31.79 L208.89,31.99 L210.09,32.18 L211.30,32.38 L212.50,32.58 L213.71,32.77 L214.91,32.97 L216.12,33.17 L217.32,33.37 L218.52,33.56 L219.73,33.76 L220.93,33.96 L222.14,34.15 L223.34,34.35 L224.55,34.55 L225.75,34.74 L226.95,34.94 L228.16,35.14 L229.36,35.33 L230.57,35.53 L231.77,35.72 L232.98,35.92 L234.18,36.11 L235.39,36.30 L236.59,36.50 L237.80,36.69 L239.00,36.88 L240.21,37.08 L241.41,37.27 L242.62,37.46 L243.82,37.65 L245.03,37.84 L246.23,38.03 L247.44,38.23 L248.64,38.42 L249.85,38.61 L251.05,38.80 L252.26,38.99 L253.46,39.19 L254.67,39.38 L255.87,39.57 L257.08,39.76 L258.28,39.95 L259.49,40.15 L260.69,40.34 L261.90,40.54 L263.10,40.73 L264.31,40.92 L265.51,41.12 L266.72,41.31 L267.92,41.51 L269.13,41.71 L270.33,41.90 L271.53,42.10 L272.74,42.30 L273.94,42.50 L275.15,42.70 L276.35,42.90 L277.55,43.10 L278.76,43.30 L279.96,43.50 L281.16,43.71 L282.37,43.91 L283.57,44.12 L284.77,44.32 L285.98,44.53 L287.18,44.74 L288.38,44.94 L289.58,45.15 L290.78,45.36 L291.99,45.57 L293.19,45.79 L294.39,46.00 L295.59,46.21 L296.79,46.43 L297.99,46.64 L299.20,46.86 L300.40,47.07 L301.60,47.29 L302.80,47.51 L304.00,47.73 L305.20,47.95 L306.40,48.17 L307.60,48.39 L308.80,48.61 L310.00,48.83 L311.20,49.05 L312.40,49.27 L313.60,49.49 L314.80,49.71 L316.00,49.93 L317.20,50.16 L318.40,50.38 L319.60,50.60" fill="none" stroke="#A3142E" stroke-width="1.75" stroke-linejoin="round" stroke-linecap="butt"/>
</g>
<rect x="34.30" y="4.40" width="285.30" height="195.00" fill="none" stroke="#555555" stroke-width="0.7"/>
<line x1="62.83" y1="199.40" x2="62.83" y2="196.40" stroke="#444" stroke-width="0.8"/>
<line x1="62.83" y1="4.40" x2="62.83" y2="7.40" stroke="#444" stroke-width="0.8"/>
<line x1="91.36" y1="199.40" x2="91.36" y2="196.40" stroke="#444" stroke-width="0.8"/>
<line x1="91.36" y1="4.40" x2="91.36" y2="7.40" stroke="#444" stroke-width="0.8"/>
<line x1="119.89" y1="199.40" x2="119.89" y2="196.40" stroke="#444" stroke-width="0.8"/>
<line x1="119.89" y1="4.40" x2="119.89" y2="7.40" stroke="#444" stroke-width="0.8"/>
<line x1="148.42" y1="199.40" x2="148.42" y2="196.40" stroke="#444" stroke-width="0.8"/>
<line x1="148.42" y1="4.40" x2="148.42" y2="7.40" stroke="#444" stroke-width="0.8"/>
<line x1="176.95" y1="199.40" x2="176.95" y2="196.40" stroke="#444" stroke-width="0.8"/>
<line x1="176.95" y1="4.40" x2="176.95" y2="7.40" stroke="#444" stroke-width="0.8"/>
<line x1="205.48" y1="199.40" x2="205.48" y2="196.40" stroke="#444" stroke-width="0.8"/>
<line x1="205.48" y1="4.40" x2="205.48" y2="7.40" stroke="#444" stroke-width="0.8"/>
<line x1="234.01" y1="199.40" x2="234.01" y2="196.40" stroke="#444" stroke-width="0.8"/>
<line x1="234.01" y1="4.40" x2="234.01" y2="7.40" stroke="#444" stroke-width="0.8"/>
<line x1="262.54" y1="199.40" x2="262.54" y2="196.40" stroke="#444" stroke-width="0.8"/>
<line x1="262.54" y1="4.40" x2="262.54" y2="7.40" stroke="#444" stroke-width="0.8"/>
<line x1="291.07" y1="199.40" x2="291.07" y2="196.40" stroke="#444" stroke-width="0.8"/>
<line x1="291.07" y1="4.40" x2="291.07" y2="7.40" stroke="#444" stroke-width="0.8"/>
<line x1="34.30" y1="171.54" x2="37.30" y2="171.54" stroke="#444" stroke-width="0.8"/>
<line x1="319.60" y1="171.54" x2="316.60" y2="171.54" stroke="#444" stroke-width="0.8"/>
<line x1="34.30" y1="143.69" x2="37.30" y2="143.69" stroke="#444" stroke-width="0.8"/>
<line x1="319.60" y1="143.69" x2="316.60" y2="143.69" stroke="#444" stroke-width="0.8"/>
<line x1="34.30" y1="115.83" x2="37.30" y2="115.83" stroke="#444" stroke-width="0.8"/>
<line x1="319.60" y1="115.83" x2="316.60" y2="115.83" stroke="#444" stroke-width="0.8"/>
<line x1="34.30" y1="87.97" x2="37.30" y2="87.97" stroke="#444" stroke-width="0.8"/>
<line x1="319.60" y1="87.97" x2="316.60" y2="87.97" stroke="#444" stroke-width="0.8"/>
<line x1="34.30" y1="60.11" x2="37.30" y2="60.11" stroke="#444" stroke-width="0.8"/>
<line x1="319.60" y1="60.11" x2="316.60" y2="60.11" stroke="#444" stroke-width="0.8"/>
<line x1="34.30" y1="32.26" x2="37.30" y2="32.26" stroke="#444" stroke-width="0.8"/>
<line x1="319.60" y1="32.26" x2="316.60" y2="32.26" stroke="#444" stroke-width="0.8"/>
<text transform="translate(34.30,210.75) scale(0.8,1)" text-anchor="middle" font-size="9.6" fill="#1c1c1c" stroke="#1c1c1c" stroke-width="0.15">0</text>
<text transform="translate(62.83,210.75) scale(0.8,1)" text-anchor="middle" font-size="9.6" fill="#1c1c1c" stroke="#1c1c1c" stroke-width="0.15">5</text>
<text transform="translate(91.36,210.75) scale(0.8,1)" text-anchor="middle" font-size="9.6" fill="#1c1c1c" stroke="#1c1c1c" stroke-width="0.15">10</text>
<text transform="translate(119.89,210.75) scale(0.8,1)" text-anchor="middle" font-size="9.6" fill="#1c1c1c" stroke="#1c1c1c" stroke-width="0.15">15</text>
<text transform="translate(148.42,210.75) scale(0.8,1)" text-anchor="middle" font-size="9.6" fill="#1c1c1c" stroke="#1c1c1c" stroke-width="0.15">20</text>
<text transform="translate(176.95,210.75) scale(0.8,1)" text-anchor="middle" font-size="9.6" fill="#1c1c1c" stroke="#1c1c1c" stroke-width="0.15">25</text>
<text transform="translate(205.48,210.75) scale(0.8,1)" text-anchor="middle" font-size="9.6" fill="#1c1c1c" stroke="#1c1c1c" stroke-width="0.15">30</text>
<text transform="translate(234.01,210.75) scale(0.8,1)" text-anchor="middle" font-size="9.6" fill="#1c1c1c" stroke="#1c1c1c" stroke-width="0.15">35</text>
<text transform="translate(262.54,210.75) scale(0.8,1)" text-anchor="middle" font-size="9.6" fill="#1c1c1c" stroke="#1c1c1c" stroke-width="0.15">40</text>
<text transform="translate(291.07,210.75) scale(0.8,1)" text-anchor="middle" font-size="9.6" fill="#1c1c1c" stroke="#1c1c1c" stroke-width="0.15">45</text>
<text transform="translate(319.60,210.75) scale(0.8,1)" text-anchor="middle" font-size="9.6" fill="#1c1c1c" stroke="#1c1c1c" stroke-width="0.15">50</text>
<text transform="translate(31.90,202.70) scale(0.8,1)" text-anchor="end" font-size="9.6" fill="#1c1c1c" stroke="#1c1c1c" stroke-width="0.15">0</text>
<text transform="translate(31.90,174.84) scale(0.8,1)" text-anchor="end" font-size="9.6" fill="#1c1c1c" stroke="#1c1c1c" stroke-width="0.15">1000</text>
<text transform="translate(31.90,146.99) scale(0.8,1)" text-anchor="end" font-size="9.6" fill="#1c1c1c" stroke="#1c1c1c" stroke-width="0.15">2000</text>
<text transform="translate(31.90,119.13) scale(0.8,1)" text-anchor="end" font-size="9.6" fill="#1c1c1c" stroke="#1c1c1c" stroke-width="0.15">3000</text>
<text transform="translate(31.90,91.27) scale(0.8,1)" text-anchor="end" font-size="9.6" fill="#1c1c1c" stroke="#1c1c1c" stroke-width="0.15">4000</text>
<text transform="translate(31.90,63.41) scale(0.8,1)" text-anchor="end" font-size="9.6" fill="#1c1c1c" stroke="#1c1c1c" stroke-width="0.15">5000</text>
<text transform="translate(31.90,35.56) scale(0.8,1)" text-anchor="end" font-size="9.6" fill="#1c1c1c" stroke="#1c1c1c" stroke-width="0.15">6000</text>
<text transform="translate(31.90,7.70) scale(0.8,1)" text-anchor="end" font-size="9.6" fill="#1c1c1c" stroke="#1c1c1c" stroke-width="0.15">7000</text>
<rect x="242.05" y="99.30" width="62.80" height="65.40" fill="#fff" stroke="#555555" stroke-width="0.8"/>
<line x1="246.40" y1="107.30" x2="269.90" y2="107.30" stroke="#DE7D00" stroke-width="1.9"/>
<text transform="translate(271.90,110.40) scale(0.963,1)" font-family="Liberation Serif, serif" font-size="10.32" fill="#1c1c1c" stroke="#1c1c1c" stroke-width="0.12">α</text>
<text transform="translate(279.20,110.40) scale(0.875,1)" font-weight="bold" font-size="8.6" fill="#1c1c1c" stroke="#1c1c1c" stroke-width="0.25">= 0.80</text>
<line x1="246.40" y1="119.70" x2="269.90" y2="119.70" stroke="#FFD600" stroke-width="1.9"/>
<text transform="translate(271.90,122.80) scale(0.963,1)" font-family="Liberation Serif, serif" font-size="10.32" fill="#1c1c1c" stroke="#1c1c1c" stroke-width="0.12">α</text>
<text transform="translate(279.20,122.80) scale(0.875,1)" font-weight="bold" font-size="8.6" fill="#1c1c1c" stroke="#1c1c1c" stroke-width="0.25">= 0.85</text>
<line x1="246.40" y1="132.10" x2="269.90" y2="132.10" stroke="#00BFBF" stroke-width="1.9"/>
<text transform="translate(271.90,135.20) scale(0.963,1)" font-family="Liberation Serif, serif" font-size="10.32" fill="#1c1c1c" stroke="#1c1c1c" stroke-width="0.12">α</text>
<text transform="translate(279.20,135.20) scale(0.875,1)" font-weight="bold" font-size="8.6" fill="#1c1c1c" stroke="#1c1c1c" stroke-width="0.25">= 0.90</text>
<line x1="246.40" y1="144.50" x2="269.90" y2="144.50" stroke="#FF99C7" stroke-width="1.9"/>
<text transform="translate(271.90,147.60) scale(0.963,1)" font-family="Liberation Serif, serif" font-size="10.32" fill="#1c1c1c" stroke="#1c1c1c" stroke-width="0.12">α</text>
<text transform="translate(279.20,147.60) scale(0.875,1)" font-weight="bold" font-size="8.6" fill="#1c1c1c" stroke="#1c1c1c" stroke-width="0.25">= 0.95</text>
<line x1="246.40" y1="156.80" x2="269.90" y2="156.80" stroke="#A3142E" stroke-width="1.9"/>
<text transform="translate(271.90,159.90) scale(0.963,1)" font-family="Liberation Serif, serif" font-size="10.32" fill="#1c1c1c" stroke="#1c1c1c" stroke-width="0.12">α</text>
<text transform="translate(279.20,159.90) scale(0.875,1)" font-weight="bold" font-size="8.6" fill="#1c1c1c" stroke="#1c1c1c" stroke-width="0.25">= 1.00</text>
<text x="177" y="223.4" text-anchor="middle" font-weight="bold" font-size="11.7" textLength="60.0" lengthAdjust="spacingAndGlyphs" fill="#1c1c1c" stroke="#1c1c1c" stroke-width="0.3">Time(Years)</text>
<text transform="translate(9.3,102) rotate(-90)" text-anchor="middle" font-weight="bold" font-size="11.0" stroke="#1c1c1c" stroke-width="0.3" textLength="130" lengthAdjust="spacingAndGlyphs" fill="#1c1c1c">HIV treated individuals</text>
<text x="180.8" y="245.0" text-anchor="middle" font-family="Liberation Serif, serif" font-size="14.2" fill="#1c1c1c">(g)</text>
<line x1="423.17" y1="4.40" x2="423.17" y2="199.40" stroke="#ebebeb" stroke-width="0.8"/>
<line x1="451.74" y1="4.40" x2="451.74" y2="199.40" stroke="#ebebeb" stroke-width="0.8"/>
<line x1="480.31" y1="4.40" x2="480.31" y2="199.40" stroke="#ebebeb" stroke-width="0.8"/>
<line x1="508.88" y1="4.40" x2="508.88" y2="199.40" stroke="#ebebeb" stroke-width="0.8"/>
<line x1="537.45" y1="4.40" x2="537.45" y2="199.40" stroke="#ebebeb" stroke-width="0.8"/>
<line x1="566.02" y1="4.40" x2="566.02" y2="199.40" stroke="#ebebeb" stroke-width="0.8"/>
<line x1="594.59" y1="4.40" x2="594.59" y2="199.40" stroke="#ebebeb" stroke-width="0.8"/>
<line x1="623.16" y1="4.40" x2="623.16" y2="199.40" stroke="#ebebeb" stroke-width="0.8"/>
<line x1="651.73" y1="4.40" x2="651.73" y2="199.40" stroke="#ebebeb" stroke-width="0.8"/>
<line x1="394.60" y1="166.90" x2="680.30" y2="166.90" stroke="#ebebeb" stroke-width="0.8"/>
<line x1="394.60" y1="134.40" x2="680.30" y2="134.40" stroke="#ebebeb" stroke-width="0.8"/>
<line x1="394.60" y1="101.90" x2="680.30" y2="101.90" stroke="#ebebeb" stroke-width="0.8"/>
<line x1="394.60" y1="69.40" x2="680.30" y2="69.40" stroke="#ebebeb" stroke-width="0.8"/>
<line x1="394.60" y1="36.90" x2="680.30" y2="36.90" stroke="#ebebeb" stroke-width="0.8"/>
<clipPath id="ch"><rect x="394.6" y="4.4" width="286.69999999999993" height="196.0"/></clipPath><g clip-path="url(#ch)">
<path d="M394.60,199.40 L395.56,198.42 L396.51,197.44 L397.47,196.46 L398.42,195.46 L399.38,194.46 L400.33,193.45 L401.29,192.42 L402.24,191.37 L403.20,190.31 L404.16,189.23 L405.11,188.15 L406.07,187.06 L407.02,185.97 L407.98,184.89 L408.93,183.81 L409.89,182.73 L410.84,181.67 L411.80,180.62 L412.75,179.58 L413.71,178.55 L414.67,177.52 L415.62,176.51 L416.58,175.51 L417.53,174.53 L418.49,173.55 L419.44,172.58 L420.40,171.63 L421.35,170.69 L422.31,169.76 L423.27,168.84 L424.22,167.93 L425.18,167.04 L426.13,166.16 L427.09,165.28 L428.04,164.42 L429.00,163.57 L429.95,162.73 L430.91,161.90 L431.87,161.08 L432.82,160.27 L433.78,159.46 L434.73,158.66 L435.69,157.87 L436.64,157.09 L437.60,156.31 L438.55,155.54 L439.51,154.78 L440.46,154.01 L441.42,153.26 L442.38,152.51 L443.33,151.76 L444.29,151.01 L445.24,150.27 L446.20,149.53 L447.15,148.80 L448.11,148.06 L449.06,147.33 L450.02,146.59 L450.98,145.86 L451.93,145.13 L452.89,144.40 L453.84,143.66 L454.80,142.93 L455.75,142.19 L456.71,141.46 L457.66,140.73 L458.62,140.00 L459.58,139.26 L460.53,138.53 L461.49,137.80 L462.44,137.07 L463.40,136.34 L464.35,135.61 L465.31,134.88 L466.26,134.16 L467.22,133.43 L468.17,132.71 L469.13,131.99 L470.09,131.27 L471.04,130.55 L472.00,129.83 L472.95,129.12 L473.91,128.41 L474.86,127.70 L475.82,126.99 L476.77,126.29 L477.73,125.59 L478.69,124.89 L479.64,124.19 L480.60,123.50 L481.55,122.81 L482.51,122.12 L483.46,121.43 L484.42,120.75 L485.37,120.08 L486.33,119.40 L487.29,118.73 L488.24,118.06 L489.20,117.40 L490.15,116.74 L491.11,116.08 L492.06,115.42 L493.02,114.77 L493.97,114.12 L494.93,113.48 L495.88,112.84 L496.84,112.20 L497.80,111.57 L498.75,110.94 L499.71,110.31 L500.66,109.69 L501.62,109.07 L502.57,108.46 L503.53,107.85 L504.48,107.24 L505.44,106.64 L506.40,106.04 L507.35,105.45 L508.31,104.86 L509.26,104.27 L510.22,103.69 L511.17,103.11 L512.13,102.53 L513.08,101.96 L514.04,101.39 L515.00,100.83 L515.95,100.27 L516.91,99.72 L517.86,99.17 L518.82,98.62 L519.77,98.08 L520.73,97.54 L521.68,97.00 L522.64,96.47 L523.59,95.94 L524.55,95.42 L525.51,94.90 L526.46,94.38 L527.42,93.87 L528.37,93.36 L529.33,92.85 L530.28,92.35 L531.24,91.85 L532.19,91.36 L533.15,90.87 L534.11,90.38 L535.06,89.89 L536.02,89.41 L536.97,88.94 L537.93,88.46 L538.88,87.99 L539.84,87.53 L540.79,87.07 L541.75,86.61 L542.71,86.15 L543.66,85.70 L544.62,85.25 L545.57,84.80 L546.53,84.36 L547.48,83.92 L548.44,83.48 L549.39,83.05 L550.35,82.62 L551.31,82.19 L552.26,81.77 L553.22,81.35 L554.17,80.93 L555.13,80.52 L556.08,80.11 L557.04,79.70 L557.99,79.29 L558.95,78.89 L559.90,78.49 L560.86,78.09 L561.82,77.70 L562.77,77.31 L563.73,76.92 L564.68,76.53 L565.64,76.15 L566.59,75.77 L567.55,75.39 L568.50,75.02 L569.46,74.65 L570.42,74.28 L571.37,73.91 L572.33,73.55 L573.28,73.19 L574.24,72.83 L575.19,72.47 L576.15,72.12 L577.10,71.77 L578.06,71.42 L579.02,71.07 L579.97,70.73 L580.93,70.39 L581.88,70.05 L582.84,69.72 L583.79,69.39 L584.75,69.06 L585.70,68.73 L586.66,68.40 L587.61,68.08 L588.57,67.76 L589.53,67.44 L590.48,67.13 L591.44,66.82 L592.39,66.50 L593.35,66.20 L594.30,65.89 L595.26,65.59 L596.21,65.29 L597.17,64.99 L598.13,64.70 L599.08,64.40 L600.04,64.11 L600.99,63.82 L601.95,63.54 L602.90,63.25 L603.86,62.97 L604.81,62.69 L605.77,62.41 L606.73,62.14 L607.68,61.86 L608.64,61.59 L609.59,61.32 L610.55,61.05 L611.50,60.79 L612.46,60.52 L613.41,60.26 L614.37,60.00 L615.32,59.74 L616.28,59.49 L617.24,59.23 L618.19,58.98 L619.15,58.73 L620.10,58.48 L621.06,58.23 L622.01,57.99 L622.97,57.74 L623.92,57.50 L624.88,57.26 L625.84,57.02 L626.79,56.78 L627.75,56.55 L628.70,56.31 L629.66,56.08 L630.61,55.85 L631.57,55.63 L632.52,55.40 L633.48,55.18 L634.44,54.96 L635.39,54.74 L636.35,54.53 L637.30,54.32 L638.26,54.11 L639.21,53.90 L640.17,53.70 L641.12,53.50 L642.08,53.30 L643.03,53.11 L643.99,52.92 L644.95,52.73 L645.90,52.55 L646.86,52.37 L647.81,52.19 L648.77,52.02 L649.72,51.85 L650.68,51.69 L651.63,51.53 L652.59,51.37 L653.55,51.22 L654.50,51.07 L655.46,50.92 L656.41,50.78 L657.37,50.64 L658.32,50.51 L659.28,50.38 L660.23,50.25 L661.19,50.12 L662.15,50.00 L663.10,49.88 L664.06,49.76 L665.01,49.65 L665.97,49.53 L666.92,49.42 L667.88,49.31 L668.83,49.20 L669.79,49.10 L670.74,48.99 L671.70,48.89 L672.66,48.79 L673.61,48.69 L674.57,48.59 L675.52,48.49 L676.48,48.39 L677.43,48.29 L678.39,48.19 L679.34,48.10 L680.30,48.00" fill="none" stroke="#DE7D00" stroke-width="1.75" stroke-linejoin="round" stroke-linecap="butt"/>
<path d="M394.60,199.40 L395.56,198.42 L396.51,197.42 L397.47,196.43 L398.42,195.42 L399.38,194.40 L400.33,193.37 L401.29,192.32 L402.24,191.25 L403.20,190.16 L404.16,189.05 L405.11,187.93 L406.07,186.80 L407.02,185.66 L407.98,184.52 L408.93,183.37 L409.89,182.23 L410.84,181.10 L411.80,179.96 L412.75,178.83 L413.71,177.71 L414.67,176.59 L415.62,175.48 L416.58,174.37 L417.53,173.27 L418.49,172.18 L419.44,171.09 L420.40,170.01 L421.35,168.94 L422.31,167.88 L423.27,166.83 L424.22,165.79 L425.18,164.76 L426.13,163.73 L427.09,162.72 L428.04,161.71 L429.00,160.72 L429.95,159.73 L430.91,158.74 L431.87,157.77 L432.82,156.80 L433.78,155.84 L434.73,154.88 L435.69,153.93 L436.64,152.99 L437.60,152.05 L438.55,151.12 L439.51,150.19 L440.46,149.26 L441.42,148.34 L442.38,147.43 L443.33,146.51 L444.29,145.60 L445.24,144.70 L446.20,143.79 L447.15,142.89 L448.11,141.99 L449.06,141.09 L450.02,140.19 L450.98,139.30 L451.93,138.40 L452.89,137.50 L453.84,136.61 L454.80,135.71 L455.75,134.82 L456.71,133.93 L457.66,133.04 L458.62,132.15 L459.58,131.26 L460.53,130.37 L461.49,129.49 L462.44,128.60 L463.40,127.72 L464.35,126.84 L465.31,125.96 L466.26,125.09 L467.22,124.22 L468.17,123.35 L469.13,122.48 L470.09,121.62 L471.04,120.76 L472.00,119.90 L472.95,119.05 L473.91,118.20 L474.86,117.35 L475.82,116.51 L476.77,115.67 L477.73,114.84 L478.69,114.01 L479.64,113.18 L480.60,112.36 L481.55,111.54 L482.51,110.73 L483.46,109.93 L484.42,109.13 L485.37,108.33 L486.33,107.54 L487.29,106.75 L488.24,105.97 L489.20,105.19 L490.15,104.42 L491.11,103.65 L492.06,102.89 L493.02,102.13 L493.97,101.38 L494.93,100.63 L495.88,99.89 L496.84,99.15 L497.80,98.42 L498.75,97.69 L499.71,96.97 L500.66,96.25 L501.62,95.54 L502.57,94.83 L503.53,94.13 L504.48,93.44 L505.44,92.75 L506.40,92.06 L507.35,91.38 L508.31,90.70 L509.26,90.03 L510.22,89.37 L511.17,88.71 L512.13,88.05 L513.08,87.41 L514.04,86.76 L515.00,86.12 L515.95,85.49 L516.91,84.86 L517.86,84.24 L518.82,83.62 L519.77,83.01 L520.73,82.41 L521.68,81.81 L522.64,81.21 L523.59,80.62 L524.55,80.04 L525.51,79.46 L526.46,78.89 L527.42,78.32 L528.37,77.76 L529.33,77.20 L530.28,76.65 L531.24,76.11 L532.19,75.57 L533.15,75.03 L534.11,74.51 L535.06,73.98 L536.02,73.47 L536.97,72.96 L537.93,72.45 L538.88,71.95 L539.84,71.46 L540.79,70.97 L541.75,70.49 L542.71,70.01 L543.66,69.54 L544.62,69.07 L545.57,68.61 L546.53,68.15 L547.48,67.70 L548.44,67.26 L549.39,66.81 L550.35,66.38 L551.31,65.95 L552.26,65.52 L553.22,65.10 L554.17,64.69 L555.13,64.27 L556.08,63.87 L557.04,63.47 L557.99,63.07 L558.95,62.67 L559.90,62.29 L560.86,61.90 L561.82,61.52 L562.77,61.15 L563.73,60.78 L564.68,60.41 L565.64,60.05 L566.59,59.69 L567.55,59.33 L568.50,58.98 L569.46,58.64 L570.42,58.29 L571.37,57.95 L572.33,57.62 L573.28,57.28 L574.24,56.95 L575.19,56.63 L576.15,56.30 L577.10,55.98 L578.06,55.67 L579.02,55.35 L579.97,55.04 L580.93,54.73 L581.88,54.42 L582.84,54.11 L583.79,53.81 L584.75,53.51 L585.70,53.21 L586.66,52.91 L587.61,52.61 L588.57,52.32 L589.53,52.03 L590.48,51.73 L591.44,51.44 L592.39,51.15 L593.35,50.86 L594.30,50.57 L595.26,50.29 L596.21,50.00 L597.17,49.72 L598.13,49.43 L599.08,49.15 L600.04,48.87 L600.99,48.58 L601.95,48.31 L602.90,48.03 L603.86,47.75 L604.81,47.48 L605.77,47.21 L606.73,46.94 L607.68,46.67 L608.64,46.41 L609.59,46.15 L610.55,45.89 L611.50,45.63 L612.46,45.38 L613.41,45.13 L614.37,44.89 L615.32,44.65 L616.28,44.41 L617.24,44.17 L618.19,43.94 L619.15,43.72 L620.10,43.49 L621.06,43.27 L622.01,43.06 L622.97,42.85 L623.92,42.65 L624.88,42.45 L625.84,42.25 L626.79,42.06 L627.75,41.88 L628.70,41.69 L629.66,41.52 L630.61,41.34 L631.57,41.17 L632.52,41.01 L633.48,40.85 L634.44,40.69 L635.39,40.54 L636.35,40.39 L637.30,40.24 L638.26,40.10 L639.21,39.96 L640.17,39.82 L641.12,39.69 L642.08,39.56 L643.03,39.43 L643.99,39.31 L644.95,39.18 L645.90,39.07 L646.86,38.95 L647.81,38.84 L648.77,38.73 L649.72,38.62 L650.68,38.51 L651.63,38.41 L652.59,38.31 L653.55,38.21 L654.50,38.11 L655.46,38.02 L656.41,37.92 L657.37,37.83 L658.32,37.74 L659.28,37.66 L660.23,37.57 L661.19,37.48 L662.15,37.40 L663.10,37.32 L664.06,37.24 L665.01,37.16 L665.97,37.08 L666.92,37.00 L667.88,36.93 L668.83,36.85 L669.79,36.78 L670.74,36.71 L671.70,36.63 L672.66,36.56 L673.61,36.49 L674.57,36.42 L675.52,36.35 L676.48,36.28 L677.43,36.21 L678.39,36.14 L679.34,36.07 L680.30,36.00" fill="none" stroke="#FFD600" stroke-width="1.75" stroke-linejoin="round" stroke-linecap="butt"/>
<path d="M394.60,199.41 L395.56,198.41 L396.51,197.41 L397.47,196.41 L398.42,195.39 L399.38,194.36 L400.33,193.32 L401.29,192.25 L402.24,191.16 L403.20,190.05 L404.16,188.91 L405.11,187.76 L406.07,186.59 L407.02,185.41 L407.98,184.21 L408.93,183.01 L409.89,181.80 L410.84,180.58 L411.80,179.36 L412.75,178.13 L413.71,176.90 L414.67,175.67 L415.62,174.44 L416.58,173.20 L417.53,171.97 L418.49,170.74 L419.44,169.51 L420.40,168.28 L421.35,167.06 L422.31,165.84 L423.27,164.63 L424.22,163.42 L425.18,162.22 L426.13,161.03 L427.09,159.84 L428.04,158.66 L429.00,157.49 L429.95,156.32 L430.91,155.15 L431.87,154.00 L432.82,152.84 L433.78,151.70 L434.73,150.56 L435.69,149.42 L436.64,148.29 L437.60,147.16 L438.55,146.04 L439.51,144.92 L440.46,143.81 L441.42,142.70 L442.38,141.60 L443.33,140.50 L444.29,139.41 L445.24,138.32 L446.20,137.23 L447.15,136.14 L448.11,135.06 L449.06,133.99 L450.02,132.91 L450.98,131.84 L451.93,130.78 L452.89,129.71 L453.84,128.65 L454.80,127.60 L455.75,126.54 L456.71,125.49 L457.66,124.44 L458.62,123.40 L459.58,122.36 L460.53,121.32 L461.49,120.29 L462.44,119.26 L463.40,118.23 L464.35,117.21 L465.31,116.19 L466.26,115.18 L467.22,114.17 L468.17,113.17 L469.13,112.17 L470.09,111.17 L471.04,110.18 L472.00,109.19 L472.95,108.21 L473.91,107.23 L474.86,106.25 L475.82,105.28 L476.77,104.32 L477.73,103.36 L478.69,102.41 L479.64,101.46 L480.60,100.51 L481.55,99.58 L482.51,98.64 L483.46,97.72 L484.42,96.79 L485.37,95.88 L486.33,94.97 L487.29,94.06 L488.24,93.16 L489.20,92.27 L490.15,91.39 L491.11,90.51 L492.06,89.64 L493.02,88.77 L493.97,87.91 L494.93,87.06 L495.88,86.22 L496.84,85.38 L497.80,84.55 L498.75,83.73 L499.71,82.91 L500.66,82.11 L501.62,81.31 L502.57,80.52 L503.53,79.74 L504.48,78.96 L505.44,78.20 L506.40,77.44 L507.35,76.69 L508.31,75.95 L509.26,75.22 L510.22,74.50 L511.17,73.79 L512.13,73.09 L513.08,72.39 L514.04,71.70 L515.00,71.03 L515.95,70.35 L516.91,69.69 L517.86,69.04 L518.82,68.39 L519.77,67.75 L520.73,67.11 L521.68,66.49 L522.64,65.87 L523.59,65.25 L524.55,64.65 L525.51,64.05 L526.46,63.45 L527.42,62.86 L528.37,62.28 L529.33,61.70 L530.28,61.13 L531.24,60.56 L532.19,60.00 L533.15,59.44 L534.11,58.89 L535.06,58.34 L536.02,57.80 L536.97,57.26 L537.93,56.72 L538.88,56.19 L539.84,55.66 L540.79,55.14 L541.75,54.62 L542.71,54.10 L543.66,53.59 L544.62,53.08 L545.57,52.58 L546.53,52.08 L547.48,51.59 L548.44,51.10 L549.39,50.61 L550.35,50.13 L551.31,49.66 L552.26,49.19 L553.22,48.72 L554.17,48.26 L555.13,47.81 L556.08,47.36 L557.04,46.92 L557.99,46.48 L558.95,46.04 L559.90,45.61 L560.86,45.19 L561.82,44.77 L562.77,44.36 L563.73,43.96 L564.68,43.56 L565.64,43.16 L566.59,42.77 L567.55,42.39 L568.50,42.01 L569.46,41.64 L570.42,41.28 L571.37,40.92 L572.33,40.57 L573.28,40.22 L574.24,39.88 L575.19,39.54 L576.15,39.21 L577.10,38.88 L578.06,38.56 L579.02,38.25 L579.97,37.94 L580.93,37.64 L581.88,37.34 L582.84,37.05 L583.79,36.76 L584.75,36.47 L585.70,36.20 L586.66,35.92 L587.61,35.66 L588.57,35.39 L589.53,35.14 L590.48,34.88 L591.44,34.64 L592.39,34.39 L593.35,34.15 L594.30,33.92 L595.26,33.69 L596.21,33.47 L597.17,33.25 L598.13,33.03 L599.08,32.82 L600.04,32.61 L600.99,32.41 L601.95,32.21 L602.90,32.02 L603.86,31.83 L604.81,31.64 L605.77,31.46 L606.73,31.29 L607.68,31.11 L608.64,30.94 L609.59,30.78 L610.55,30.62 L611.50,30.46 L612.46,30.31 L613.41,30.16 L614.37,30.01 L615.32,29.87 L616.28,29.73 L617.24,29.60 L618.19,29.47 L619.15,29.34 L620.10,29.22 L621.06,29.10 L622.01,28.98 L622.97,28.87 L623.92,28.76 L624.88,28.65 L625.84,28.55 L626.79,28.45 L627.75,28.35 L628.70,28.26 L629.66,28.17 L630.61,28.08 L631.57,28.00 L632.52,27.92 L633.48,27.85 L634.44,27.78 L635.39,27.71 L636.35,27.65 L637.30,27.59 L638.26,27.53 L639.21,27.48 L640.17,27.44 L641.12,27.39 L642.08,27.36 L643.03,27.32 L643.99,27.29 L644.95,27.26 L645.90,27.24 L646.86,27.23 L647.81,27.21 L648.77,27.21 L649.72,27.20 L650.68,27.20 L651.63,27.21 L652.59,27.22 L653.55,27.23 L654.50,27.25 L655.46,27.28 L656.41,27.30 L657.37,27.33 L658.32,27.37 L659.28,27.41 L660.23,27.45 L661.19,27.50 L662.15,27.54 L663.10,27.60 L664.06,27.65 L665.01,27.71 L665.97,27.77 L666.92,27.83 L667.88,27.89 L668.83,27.96 L669.79,28.02 L670.74,28.09 L671.70,28.17 L672.66,28.24 L673.61,28.31 L674.57,28.39 L675.52,28.46 L676.48,28.54 L677.43,28.62 L678.39,28.69 L679.34,28.77 L680.30,28.85" fill="none" stroke="#00BFBF" stroke-width="1.75" stroke-linejoin="round" stroke-linecap="butt"/>
<path d="M394.60,199.41 L395.56,198.41 L396.51,197.42 L397.47,196.41 L398.42,195.40 L399.38,194.37 L400.33,193.32 L401.29,192.24 L402.24,191.14 L403.20,190.02 L404.16,188.87 L405.11,187.69 L406.07,186.49 L407.02,185.28 L407.98,184.05 L408.93,182.80 L409.89,181.55 L410.84,180.28 L411.80,179.00 L412.75,177.71 L413.71,176.41 L414.67,175.11 L415.62,173.79 L416.58,172.47 L417.53,171.14 L418.49,169.81 L419.44,168.47 L420.40,167.13 L421.35,165.78 L422.31,164.44 L423.27,163.09 L424.22,161.74 L425.18,160.38 L426.13,159.03 L427.09,157.68 L428.04,156.32 L429.00,154.97 L429.95,153.62 L430.91,152.27 L431.87,150.92 L432.82,149.57 L433.78,148.22 L434.73,146.87 L435.69,145.53 L436.64,144.19 L437.60,142.85 L438.55,141.51 L439.51,140.18 L440.46,138.85 L441.42,137.52 L442.38,136.20 L443.33,134.89 L444.29,133.57 L445.24,132.26 L446.20,130.96 L447.15,129.66 L448.11,128.37 L449.06,127.08 L450.02,125.80 L450.98,124.53 L451.93,123.26 L452.89,122.00 L453.84,120.75 L454.80,119.50 L455.75,118.26 L456.71,117.02 L457.66,115.80 L458.62,114.58 L459.58,113.36 L460.53,112.16 L461.49,110.96 L462.44,109.77 L463.40,108.58 L464.35,107.40 L465.31,106.23 L466.26,105.06 L467.22,103.90 L468.17,102.75 L469.13,101.61 L470.09,100.47 L471.04,99.33 L472.00,98.21 L472.95,97.09 L473.91,95.98 L474.86,94.87 L475.82,93.77 L476.77,92.68 L477.73,91.59 L478.69,90.51 L479.64,89.44 L480.60,88.37 L481.55,87.31 L482.51,86.26 L483.46,85.21 L484.42,84.18 L485.37,83.14 L486.33,82.12 L487.29,81.10 L488.24,80.09 L489.20,79.09 L490.15,78.10 L491.11,77.11 L492.06,76.13 L493.02,75.16 L493.97,74.20 L494.93,73.25 L495.88,72.31 L496.84,71.37 L497.80,70.45 L498.75,69.53 L499.71,68.62 L500.66,67.72 L501.62,66.84 L502.57,65.96 L503.53,65.09 L504.48,64.23 L505.44,63.38 L506.40,62.55 L507.35,61.72 L508.31,60.90 L509.26,60.10 L510.22,59.30 L511.17,58.52 L512.13,57.74 L513.08,56.98 L514.04,56.22 L515.00,55.48 L515.95,54.74 L516.91,54.02 L517.86,53.30 L518.82,52.59 L519.77,51.89 L520.73,51.20 L521.68,50.52 L522.64,49.85 L523.59,49.18 L524.55,48.52 L525.51,47.87 L526.46,47.23 L527.42,46.59 L528.37,45.96 L529.33,45.34 L530.28,44.72 L531.24,44.11 L532.19,43.51 L533.15,42.91 L534.11,42.31 L535.06,41.73 L536.02,41.14 L536.97,40.57 L537.93,39.99 L538.88,39.42 L539.84,38.86 L540.79,38.30 L541.75,37.75 L542.71,37.20 L543.66,36.66 L544.62,36.13 L545.57,35.60 L546.53,35.08 L547.48,34.57 L548.44,34.06 L549.39,33.56 L550.35,33.07 L551.31,32.58 L552.26,32.11 L553.22,31.64 L554.17,31.18 L555.13,30.73 L556.08,30.29 L557.04,29.86 L557.99,29.44 L558.95,29.03 L559.90,28.63 L560.86,28.24 L561.82,27.86 L562.77,27.49 L563.73,27.14 L564.68,26.79 L565.64,26.46 L566.59,26.13 L567.55,25.82 L568.50,25.53 L569.46,25.24 L570.42,24.96 L571.37,24.69 L572.33,24.44 L573.28,24.19 L574.24,23.96 L575.19,23.73 L576.15,23.51 L577.10,23.30 L578.06,23.10 L579.02,22.90 L579.97,22.72 L580.93,22.54 L581.88,22.37 L582.84,22.20 L583.79,22.04 L584.75,21.89 L585.70,21.74 L586.66,21.60 L587.61,21.46 L588.57,21.33 L589.53,21.20 L590.48,21.08 L591.44,20.96 L592.39,20.84 L593.35,20.72 L594.30,20.61 L595.26,20.50 L596.21,20.39 L597.17,20.29 L598.13,20.19 L599.08,20.09 L600.04,19.99 L600.99,19.90 L601.95,19.81 L602.90,19.72 L603.86,19.64 L604.81,19.56 L605.77,19.48 L606.73,19.41 L607.68,19.34 L608.64,19.28 L609.59,19.22 L610.55,19.16 L611.50,19.11 L612.46,19.06 L613.41,19.02 L614.37,18.99 L615.32,18.95 L616.28,18.93 L617.24,18.91 L618.19,18.89 L619.15,18.88 L620.10,18.88 L621.06,18.88 L622.01,18.89 L622.97,18.91 L623.92,18.93 L624.88,18.96 L625.84,18.99 L626.79,19.03 L627.75,19.08 L628.70,19.13 L629.66,19.19 L630.61,19.25 L631.57,19.32 L632.52,19.39 L633.48,19.48 L634.44,19.56 L635.39,19.65 L636.35,19.75 L637.30,19.85 L638.26,19.95 L639.21,20.06 L640.17,20.18 L641.12,20.30 L642.08,20.42 L643.03,20.55 L643.99,20.68 L644.95,20.82 L645.90,20.96 L646.86,21.11 L647.81,21.25 L648.77,21.41 L649.72,21.56 L650.68,21.72 L651.63,21.88 L652.59,22.05 L653.55,22.22 L654.50,22.39 L655.46,22.57 L656.41,22.74 L657.37,22.92 L658.32,23.11 L659.28,23.29 L660.23,23.48 L661.19,23.67 L662.15,23.87 L663.10,24.06 L664.06,24.26 L665.01,24.46 L665.97,24.66 L666.92,24.86 L667.88,25.06 L668.83,25.27 L669.79,25.47 L670.74,25.68 L671.70,25.89 L672.66,26.10 L673.61,26.31 L674.57,26.52 L675.52,26.73 L676.48,26.95 L677.43,27.16 L678.39,27.37 L679.34,27.59 L680.30,27.80" fill="none" stroke="#FF99C7" stroke-width="1.75" stroke-linejoin="round" stroke-linecap="butt"/>
<path d="M394.60,199.41 L395.56,198.41 L396.51,197.41 L397.47,196.40 L398.42,195.37 L399.38,194.33 L400.33,193.27 L401.29,192.18 L402.24,191.06 L403.20,189.91 L404.16,188.73 L405.11,187.52 L406.07,186.28 L407.02,185.02 L407.98,183.72 L408.93,182.40 L409.89,181.06 L410.84,179.69 L411.80,178.31 L412.75,176.90 L413.71,175.48 L414.67,174.04 L415.62,172.58 L416.58,171.11 L417.53,169.63 L418.49,168.15 L419.44,166.65 L420.40,165.15 L421.35,163.64 L422.31,162.14 L423.27,160.63 L424.22,159.12 L425.18,157.61 L426.13,156.10 L427.09,154.59 L428.04,153.09 L429.00,151.58 L429.95,150.08 L430.91,148.57 L431.87,147.07 L432.82,145.57 L433.78,144.06 L434.73,142.56 L435.69,141.06 L436.64,139.56 L437.60,138.06 L438.55,136.57 L439.51,135.07 L440.46,133.57 L441.42,132.08 L442.38,130.58 L443.33,129.09 L444.29,127.59 L445.24,126.10 L446.20,124.61 L447.15,123.12 L448.11,121.63 L449.06,120.14 L450.02,118.65 L450.98,117.17 L451.93,115.68 L452.89,114.19 L453.84,112.71 L454.80,111.23 L455.75,109.75 L456.71,108.28 L457.66,106.81 L458.62,105.34 L459.58,103.88 L460.53,102.42 L461.49,100.97 L462.44,99.52 L463.40,98.08 L464.35,96.65 L465.31,95.23 L466.26,93.82 L467.22,92.41 L468.17,91.01 L469.13,89.63 L470.09,88.25 L471.04,86.89 L472.00,85.54 L472.95,84.20 L473.91,82.87 L474.86,81.55 L475.82,80.25 L476.77,78.97 L477.73,77.70 L478.69,76.44 L479.64,75.20 L480.60,73.97 L481.55,72.77 L482.51,71.58 L483.46,70.40 L484.42,69.24 L485.37,68.10 L486.33,66.97 L487.29,65.85 L488.24,64.75 L489.20,63.66 L490.15,62.59 L491.11,61.53 L492.06,60.48 L493.02,59.45 L493.97,58.42 L494.93,57.41 L495.88,56.41 L496.84,55.42 L497.80,54.45 L498.75,53.48 L499.71,52.52 L500.66,51.57 L501.62,50.63 L502.57,49.70 L503.53,48.78 L504.48,47.87 L505.44,46.97 L506.40,46.07 L507.35,45.18 L508.31,44.30 L509.26,43.42 L510.22,42.55 L511.17,41.69 L512.13,40.83 L513.08,39.98 L514.04,39.14 L515.00,38.31 L515.95,37.48 L516.91,36.67 L517.86,35.86 L518.82,35.07 L519.77,34.28 L520.73,33.50 L521.68,32.74 L522.64,31.98 L523.59,31.24 L524.55,30.51 L525.51,29.79 L526.46,29.08 L527.42,28.38 L528.37,27.70 L529.33,27.03 L530.28,26.38 L531.24,25.74 L532.19,25.11 L533.15,24.50 L534.11,23.90 L535.06,23.32 L536.02,22.75 L536.97,22.20 L537.93,21.66 L538.88,21.15 L539.84,20.64 L540.79,20.16 L541.75,19.69 L542.71,19.23 L543.66,18.79 L544.62,18.37 L545.57,17.95 L546.53,17.56 L547.48,17.17 L548.44,16.80 L549.39,16.44 L550.35,16.10 L551.31,15.76 L552.26,15.44 L553.22,15.14 L554.17,14.84 L555.13,14.55 L556.08,14.28 L557.04,14.01 L557.99,13.76 L558.95,13.51 L559.90,13.28 L560.86,13.05 L561.82,12.84 L562.77,12.63 L563.73,12.43 L564.68,12.24 L565.64,12.06 L566.59,11.88 L567.55,11.71 L568.50,11.55 L569.46,11.40 L570.42,11.26 L571.37,11.12 L572.33,10.99 L573.28,10.86 L574.24,10.75 L575.19,10.64 L576.15,10.54 L577.10,10.44 L578.06,10.36 L579.02,10.28 L579.97,10.21 L580.93,10.14 L581.88,10.08 L582.84,10.03 L583.79,9.99 L584.75,9.95 L585.70,9.93 L586.66,9.90 L587.61,9.89 L588.57,9.88 L589.53,9.88 L590.48,9.89 L591.44,9.90 L592.39,9.92 L593.35,9.95 L594.30,9.99 L595.26,10.03 L596.21,10.08 L597.17,10.14 L598.13,10.20 L599.08,10.27 L600.04,10.35 L600.99,10.43 L601.95,10.52 L602.90,10.62 L603.86,10.73 L604.81,10.84 L605.77,10.96 L606.73,11.08 L607.68,11.22 L608.64,11.36 L609.59,11.50 L610.55,11.66 L611.50,11.82 L612.46,11.98 L613.41,12.16 L614.37,12.34 L615.32,12.52 L616.28,12.72 L617.24,12.92 L618.19,13.12 L619.15,13.34 L620.10,13.56 L621.06,13.78 L622.01,14.02 L622.97,14.26 L623.92,14.50 L624.88,14.76 L625.84,15.02 L626.79,15.28 L627.75,15.55 L628.70,15.83 L629.66,16.11 L630.61,16.40 L631.57,16.69 L632.52,16.99 L633.48,17.30 L634.44,17.61 L635.39,17.92 L636.35,18.24 L637.30,18.56 L638.26,18.89 L639.21,19.22 L640.17,19.56 L641.12,19.90 L642.08,20.24 L643.03,20.59 L643.99,20.94 L644.95,21.29 L645.90,21.65 L646.86,22.01 L647.81,22.38 L648.77,22.74 L649.72,23.11 L650.68,23.48 L651.63,23.86 L652.59,24.24 L653.55,24.61 L654.50,25.00 L655.46,25.38 L656.41,25.76 L657.37,26.15 L658.32,26.54 L659.28,26.93 L660.23,27.32 L661.19,27.71 L662.15,28.11 L663.10,28.51 L664.06,28.90 L665.01,29.30 L665.97,29.70 L666.92,30.10 L667.88,30.51 L668.83,30.91 L669.79,31.31 L670.74,31.72 L671.70,32.13 L672.66,32.53 L673.61,32.94 L674.57,33.35 L675.52,33.75 L676.48,34.16 L677.43,34.57 L678.39,34.98 L679.34,35.39 L680.30,35.80" fill="none" stroke="#A3142E" stroke-width="1.75" stroke-linejoin="round" stroke-linecap="butt"/>
</g>
<rect x="394.60" y="4.40" width="285.70" height="195.00" fill="none" stroke="#555555" stroke-width="0.7"/>
<line x1="423.17" y1="199.40" x2="423.17" y2="196.40" stroke="#444" stroke-width="0.8"/>
<line x1="423.17" y1="4.40" x2="423.17" y2="7.40" stroke="#444" stroke-width="0.8"/>
<line x1="451.74" y1="199.40" x2="451.74" y2="196.40" stroke="#444" stroke-width="0.8"/>
<line x1="451.74" y1="4.40" x2="451.74" y2="7.40" stroke="#444" stroke-width="0.8"/>
<line x1="480.31" y1="199.40" x2="480.31" y2="196.40" stroke="#444" stroke-width="0.8"/>
<line x1="480.31" y1="4.40" x2="480.31" y2="7.40" stroke="#444" stroke-width="0.8"/>
<line x1="508.88" y1="199.40" x2="508.88" y2="196.40" stroke="#444" stroke-width="0.8"/>
<line x1="508.88" y1="4.40" x2="508.88" y2="7.40" stroke="#444" stroke-width="0.8"/>
<line x1="537.45" y1="199.40" x2="537.45" y2="196.40" stroke="#444" stroke-width="0.8"/>
<line x1="537.45" y1="4.40" x2="537.45" y2="7.40" stroke="#444" stroke-width="0.8"/>
<line x1="566.02" y1="199.40" x2="566.02" y2="196.40" stroke="#444" stroke-width="0.8"/>
<line x1="566.02" y1="4.40" x2="566.02" y2="7.40" stroke="#444" stroke-width="0.8"/>
<line x1="594.59" y1="199.40" x2="594.59" y2="196.40" stroke="#444" stroke-width="0.8"/>
<line x1="594.59" y1="4.40" x2="594.59" y2="7.40" stroke="#444" stroke-width="0.8"/>
<line x1="623.16" y1="199.40" x2="623.16" y2="196.40" stroke="#444" stroke-width="0.8"/>
<line x1="623.16" y1="4.40" x2="623.16" y2="7.40" stroke="#444" stroke-width="0.8"/>
<line x1="651.73" y1="199.40" x2="651.73" y2="196.40" stroke="#444" stroke-width="0.8"/>
<line x1="651.73" y1="4.40" x2="651.73" y2="7.40" stroke="#444" stroke-width="0.8"/>
<line x1="394.60" y1="166.90" x2="397.60" y2="166.90" stroke="#444" stroke-width="0.8"/>
<line x1="680.30" y1="166.90" x2="677.30" y2="166.90" stroke="#444" stroke-width="0.8"/>
<line x1="394.60" y1="134.40" x2="397.60" y2="134.40" stroke="#444" stroke-width="0.8"/>
<line x1="680.30" y1="134.40" x2="677.30" y2="134.40" stroke="#444" stroke-width="0.8"/>
<line x1="394.60" y1="101.90" x2="397.60" y2="101.90" stroke="#444" stroke-width="0.8"/>
<line x1="680.30" y1="101.90" x2="677.30" y2="101.90" stroke="#444" stroke-width="0.8"/>
<line x1="394.60" y1="69.40" x2="397.60" y2="69.40" stroke="#444" stroke-width="0.8"/>
<line x1="680.30" y1="69.40" x2="677.30" y2="69.40" stroke="#444" stroke-width="0.8"/>
<line x1="394.60" y1="36.90" x2="397.60" y2="36.90" stroke="#444" stroke-width="0.8"/>
<line x1="680.30" y1="36.90" x2="677.30" y2="36.90" stroke="#444" stroke-width="0.8"/>
<text transform="translate(394.60,210.30) scale(0.8,1)" text-anchor="middle" font-size="9.6" fill="#1c1c1c" stroke="#1c1c1c" stroke-width="0.15">0</text>
<text transform="translate(423.17,210.30) scale(0.8,1)" text-anchor="middle" font-size="9.6" fill="#1c1c1c" stroke="#1c1c1c" stroke-width="0.15">5</text>
<text transform="translate(451.74,210.30) scale(0.8,1)" text-anchor="middle" font-size="9.6" fill="#1c1c1c" stroke="#1c1c1c" stroke-width="0.15">10</text>
<text transform="translate(480.31,210.30) scale(0.8,1)" text-anchor="middle" font-size="9.6" fill="#1c1c1c" stroke="#1c1c1c" stroke-width="0.15">15</text>
<text transform="translate(508.88,210.30) scale(0.8,1)" text-anchor="middle" font-size="9.6" fill="#1c1c1c" stroke="#1c1c1c" stroke-width="0.15">20</text>
<text transform="translate(537.45,210.30) scale(0.8,1)" text-anchor="middle" font-size="9.6" fill="#1c1c1c" stroke="#1c1c1c" stroke-width="0.15">25</text>
<text transform="translate(566.02,210.30) scale(0.8,1)" text-anchor="middle" font-size="9.6" fill="#1c1c1c" stroke="#1c1c1c" stroke-width="0.15">30</text>
<text transform="translate(594.59,210.30) scale(0.8,1)" text-anchor="middle" font-size="9.6" fill="#1c1c1c" stroke="#1c1c1c" stroke-width="0.15">35</text>
<text transform="translate(623.16,210.30) scale(0.8,1)" text-anchor="middle" font-size="9.6" fill="#1c1c1c" stroke="#1c1c1c" stroke-width="0.15">40</text>
<text transform="translate(651.73,210.30) scale(0.8,1)" text-anchor="middle" font-size="9.6" fill="#1c1c1c" stroke="#1c1c1c" stroke-width="0.15">45</text>
<text transform="translate(680.30,210.30) scale(0.8,1)" text-anchor="middle" font-size="9.6" fill="#1c1c1c" stroke="#1c1c1c" stroke-width="0.15">50</text>
<text transform="translate(392.20,202.70) scale(0.8,1)" text-anchor="end" font-size="9.6" fill="#1c1c1c" stroke="#1c1c1c" stroke-width="0.15">200</text>
<text transform="translate(392.20,170.20) scale(0.8,1)" text-anchor="end" font-size="9.6" fill="#1c1c1c" stroke="#1c1c1c" stroke-width="0.15">300</text>
<text transform="translate(392.20,137.70) scale(0.8,1)" text-anchor="end" font-size="9.6" fill="#1c1c1c" stroke="#1c1c1c" stroke-width="0.15">400</text>
<text transform="translate(392.20,105.20) scale(0.8,1)" text-anchor="end" font-size="9.6" fill="#1c1c1c" stroke="#1c1c1c" stroke-width="0.15">500</text>
<text transform="translate(392.20,72.70) scale(0.8,1)" text-anchor="end" font-size="9.6" fill="#1c1c1c" stroke="#1c1c1c" stroke-width="0.15">600</text>
<text transform="translate(392.20,40.20) scale(0.8,1)" text-anchor="end" font-size="9.6" fill="#1c1c1c" stroke="#1c1c1c" stroke-width="0.15">700</text>
<text transform="translate(392.20,7.70) scale(0.8,1)" text-anchor="end" font-size="9.6" fill="#1c1c1c" stroke="#1c1c1c" stroke-width="0.15">800</text>
<rect x="599.05" y="110.50" width="63.00" height="69.25" fill="#fff" stroke="#555555" stroke-width="0.8"/>
<line x1="603.80" y1="119.00" x2="627.20" y2="119.00" stroke="#DE7D00" stroke-width="1.9"/>
<text transform="translate(629.70,122.28) scale(0.918,1)" font-family="Liberation Serif, serif" font-size="10.92" fill="#1c1c1c" stroke="#1c1c1c" stroke-width="0.12">α</text>
<text transform="translate(636.90,122.28) scale(0.835,1)" font-weight="bold" font-size="9.1" fill="#1c1c1c" stroke="#1c1c1c" stroke-width="0.25">= 0.80</text>
<line x1="603.80" y1="132.10" x2="627.20" y2="132.10" stroke="#FFD600" stroke-width="1.9"/>
<text transform="translate(629.70,135.38) scale(0.918,1)" font-family="Liberation Serif, serif" font-size="10.92" fill="#1c1c1c" stroke="#1c1c1c" stroke-width="0.12">α</text>
<text transform="translate(636.90,135.38) scale(0.835,1)" font-weight="bold" font-size="9.1" fill="#1c1c1c" stroke="#1c1c1c" stroke-width="0.25">= 0.85</text>
<line x1="603.80" y1="145.30" x2="627.20" y2="145.30" stroke="#00BFBF" stroke-width="1.9"/>
<text transform="translate(629.70,148.58) scale(0.918,1)" font-family="Liberation Serif, serif" font-size="10.92" fill="#1c1c1c" stroke="#1c1c1c" stroke-width="0.12">α</text>
<text transform="translate(636.90,148.58) scale(0.835,1)" font-weight="bold" font-size="9.1" fill="#1c1c1c" stroke="#1c1c1c" stroke-width="0.25">= 0.90</text>
<line x1="603.80" y1="158.40" x2="627.20" y2="158.40" stroke="#FF99C7" stroke-width="1.9"/>
<text transform="translate(629.70,161.68) scale(0.918,1)" font-family="Liberation Serif, serif" font-size="10.92" fill="#1c1c1c" stroke="#1c1c1c" stroke-width="0.12">α</text>
<text transform="translate(636.90,161.68) scale(0.835,1)" font-weight="bold" font-size="9.1" fill="#1c1c1c" stroke="#1c1c1c" stroke-width="0.25">= 0.95</text>
<line x1="603.80" y1="171.60" x2="627.20" y2="171.60" stroke="#A3142E" stroke-width="1.9"/>
<text transform="translate(629.70,174.88) scale(0.918,1)" font-family="Liberation Serif, serif" font-size="10.92" fill="#1c1c1c" stroke="#1c1c1c" stroke-width="0.12">α</text>
<text transform="translate(636.90,174.88) scale(0.835,1)" font-weight="bold" font-size="9.1" fill="#1c1c1c" stroke="#1c1c1c" stroke-width="0.25">= 1.00</text>
<text x="537.4" y="223.3" text-anchor="middle" font-weight="bold" font-size="11.8" textLength="60.3" lengthAdjust="spacingAndGlyphs" fill="#1c1c1c" stroke="#1c1c1c" stroke-width="0.3">Time(Years)</text>
<text transform="translate(373.2,101.5) rotate(-90)" text-anchor="middle" font-weight="bold" font-size="10.9" stroke="#1c1c1c" stroke-width="0.3" textLength="127.8" lengthAdjust="spacingAndGlyphs" fill="#1c1c1c">TB treated individuals</text>
<text x="541" y="245.8" text-anchor="middle" font-family="Liberation Serif, serif" font-size="14.2" fill="#1c1c1c">(h)</text>
<line x1="269.03" y1="279.60" x2="269.03" y2="474.50" stroke="#ebebeb" stroke-width="0.8"/>
<line x1="297.56" y1="279.60" x2="297.56" y2="474.50" stroke="#ebebeb" stroke-width="0.8"/>
<line x1="326.09" y1="279.60" x2="326.09" y2="474.50" stroke="#ebebeb" stroke-width="0.8"/>
<line x1="354.62" y1="279.60" x2="354.62" y2="474.50" stroke="#ebebeb" stroke-width="0.8"/>
<line x1="383.15" y1="279.60" x2="383.15" y2="474.50" stroke="#ebebeb" stroke-width="0.8"/>
<line x1="411.68" y1="279.60" x2="411.68" y2="474.50" stroke="#ebebeb" stroke-width="0.8"/>
<line x1="440.21" y1="279.60" x2="440.21" y2="474.50" stroke="#ebebeb" stroke-width="0.8"/>
<line x1="468.74" y1="279.60" x2="468.74" y2="474.50" stroke="#ebebeb" stroke-width="0.8"/>
<line x1="497.27" y1="279.60" x2="497.27" y2="474.50" stroke="#ebebeb" stroke-width="0.8"/>
<line x1="240.50" y1="455.01" x2="525.80" y2="455.01" stroke="#ebebeb" stroke-width="0.8"/>
<line x1="240.50" y1="435.52" x2="525.80" y2="435.52" stroke="#ebebeb" stroke-width="0.8"/>
<line x1="240.50" y1="416.03" x2="525.80" y2="416.03" stroke="#ebebeb" stroke-width="0.8"/>
<line x1="240.50" y1="396.54" x2="525.80" y2="396.54" stroke="#ebebeb" stroke-width="0.8"/>
<line x1="240.50" y1="377.05" x2="525.80" y2="377.05" stroke="#ebebeb" stroke-width="0.8"/>
<line x1="240.50" y1="357.56" x2="525.80" y2="357.56" stroke="#ebebeb" stroke-width="0.8"/>
<line x1="240.50" y1="338.07" x2="525.80" y2="338.07" stroke="#ebebeb" stroke-width="0.8"/>
<line x1="240.50" y1="318.58" x2="525.80" y2="318.58" stroke="#ebebeb" stroke-width="0.8"/>
<line x1="240.50" y1="299.09" x2="525.80" y2="299.09" stroke="#ebebeb" stroke-width="0.8"/>
<clipPath id="ci"><rect x="240.5" y="279.6" width="286.29999999999995" height="194.89999999999998"/></clipPath><g clip-path="url(#ci)">
<path d="M240.50,443.90 L241.45,444.31 L242.41,444.71 L243.36,445.11 L244.32,445.52 L245.27,445.92 L246.23,446.31 L247.18,446.71 L248.13,447.10 L249.09,447.49 L250.04,447.88 L251.00,448.26 L251.95,448.64 L252.90,449.01 L253.86,449.38 L254.81,449.74 L255.77,450.09 L256.72,450.44 L257.68,450.78 L258.63,451.12 L259.58,451.44 L260.54,451.76 L261.49,452.07 L262.45,452.37 L263.40,452.66 L264.35,452.95 L265.31,453.22 L266.26,453.48 L267.22,453.73 L268.17,453.97 L269.13,454.19 L270.08,454.41 L271.03,454.61 L271.99,454.80 L272.94,454.98 L273.90,455.15 L274.85,455.31 L275.80,455.45 L276.76,455.59 L277.71,455.72 L278.67,455.84 L279.62,455.94 L280.58,456.04 L281.53,456.14 L282.48,456.22 L283.44,456.29 L284.39,456.36 L285.35,456.42 L286.30,456.47 L287.25,456.52 L288.21,456.56 L289.16,456.59 L290.12,456.62 L291.07,456.64 L292.03,456.66 L292.98,456.67 L293.93,456.68 L294.89,456.68 L295.84,456.68 L296.80,456.67 L297.75,456.66 L298.71,456.65 L299.66,456.64 L300.61,456.62 L301.57,456.59 L302.52,456.57 L303.48,456.54 L304.43,456.50 L305.38,456.47 L306.34,456.43 L307.29,456.38 L308.25,456.33 L309.20,456.28 L310.16,456.23 L311.11,456.17 L312.06,456.10 L313.02,456.03 L313.97,455.96 L314.93,455.89 L315.88,455.81 L316.83,455.72 L317.79,455.63 L318.74,455.54 L319.70,455.44 L320.65,455.34 L321.61,455.23 L322.56,455.12 L323.51,455.00 L324.47,454.88 L325.42,454.75 L326.38,454.62 L327.33,454.48 L328.28,454.34 L329.24,454.20 L330.19,454.05 L331.15,453.89 L332.10,453.74 L333.06,453.57 L334.01,453.41 L334.96,453.24 L335.92,453.07 L336.87,452.89 L337.83,452.71 L338.78,452.53 L339.73,452.35 L340.69,452.16 L341.64,451.97 L342.60,451.78 L343.55,451.59 L344.51,451.39 L345.46,451.19 L346.41,450.99 L347.37,450.79 L348.32,450.59 L349.28,450.39 L350.23,450.19 L351.18,449.98 L352.14,449.78 L353.09,449.57 L354.05,449.37 L355.00,449.16 L355.96,448.95 L356.91,448.75 L357.86,448.54 L358.82,448.34 L359.77,448.13 L360.73,447.92 L361.68,447.71 L362.64,447.51 L363.59,447.30 L364.54,447.09 L365.50,446.88 L366.45,446.67 L367.41,446.46 L368.36,446.24 L369.31,446.03 L370.27,445.82 L371.22,445.60 L372.18,445.38 L373.13,445.17 L374.09,444.95 L375.04,444.73 L375.99,444.50 L376.95,444.28 L377.90,444.05 L378.86,443.83 L379.81,443.60 L380.76,443.37 L381.72,443.14 L382.67,442.90 L383.63,442.67 L384.58,442.43 L385.54,442.19 L386.49,441.95 L387.44,441.70 L388.40,441.46 L389.35,441.21 L390.31,440.96 L391.26,440.71 L392.21,440.46 L393.17,440.20 L394.12,439.94 L395.08,439.68 L396.03,439.42 L396.99,439.16 L397.94,438.90 L398.89,438.63 L399.85,438.36 L400.80,438.09 L401.76,437.82 L402.71,437.55 L403.66,437.27 L404.62,437.00 L405.57,436.72 L406.53,436.44 L407.48,436.15 L408.44,435.87 L409.39,435.58 L410.34,435.30 L411.30,435.01 L412.25,434.72 L413.21,434.43 L414.16,434.13 L415.12,433.84 L416.07,433.54 L417.02,433.24 L417.98,432.94 L418.93,432.64 L419.89,432.34 L420.84,432.04 L421.79,431.73 L422.75,431.43 L423.70,431.12 L424.66,430.81 L425.61,430.50 L426.57,430.20 L427.52,429.89 L428.47,429.57 L429.43,429.26 L430.38,428.95 L431.34,428.64 L432.29,428.32 L433.24,428.01 L434.20,427.69 L435.15,427.38 L436.11,427.06 L437.06,426.75 L438.02,426.43 L438.97,426.12 L439.92,425.80 L440.88,425.48 L441.83,425.17 L442.79,424.85 L443.74,424.53 L444.69,424.22 L445.65,423.90 L446.60,423.58 L447.56,423.27 L448.51,422.95 L449.47,422.63 L450.42,422.32 L451.37,422.00 L452.33,421.69 L453.28,421.37 L454.24,421.06 L455.19,420.74 L456.14,420.43 L457.10,420.11 L458.05,419.80 L459.01,419.48 L459.96,419.17 L460.92,418.86 L461.87,418.54 L462.82,418.23 L463.78,417.92 L464.73,417.61 L465.69,417.30 L466.64,416.99 L467.59,416.68 L468.55,416.37 L469.50,416.06 L470.46,415.75 L471.41,415.45 L472.37,415.14 L473.32,414.83 L474.27,414.53 L475.23,414.22 L476.18,413.92 L477.14,413.61 L478.09,413.31 L479.05,413.01 L480.00,412.71 L480.95,412.40 L481.91,412.10 L482.86,411.80 L483.82,411.50 L484.77,411.20 L485.72,410.90 L486.68,410.60 L487.63,410.30 L488.59,410.00 L489.54,409.71 L490.50,409.41 L491.45,409.11 L492.40,408.81 L493.36,408.51 L494.31,408.22 L495.27,407.92 L496.22,407.62 L497.17,407.33 L498.13,407.03 L499.08,406.74 L500.04,406.44 L500.99,406.14 L501.95,405.85 L502.90,405.55 L503.85,405.26 L504.81,404.96 L505.76,404.67 L506.72,404.37 L507.67,404.08 L508.62,403.79 L509.58,403.49 L510.53,403.20 L511.49,402.90 L512.44,402.61 L513.40,402.32 L514.35,402.02 L515.30,401.73 L516.26,401.43 L517.21,401.14 L518.17,400.85 L519.12,400.55 L520.07,400.26 L521.03,399.97 L521.98,399.67 L522.94,399.38 L523.89,399.09 L524.85,398.79 L525.80,398.50" fill="none" stroke="#DE7D00" stroke-width="1.75" stroke-linejoin="round" stroke-linecap="butt"/>
<path d="M240.50,443.90 L241.45,444.33 L242.41,444.76 L243.36,445.19 L244.32,445.62 L245.27,446.04 L246.23,446.46 L247.18,446.88 L248.13,447.30 L249.09,447.71 L250.04,448.12 L251.00,448.53 L251.95,448.93 L252.90,449.32 L253.86,449.71 L254.81,450.09 L255.77,450.47 L256.72,450.84 L257.68,451.20 L258.63,451.55 L259.58,451.90 L260.54,452.23 L261.49,452.56 L262.45,452.88 L263.40,453.18 L264.35,453.48 L265.31,453.77 L266.26,454.04 L267.22,454.30 L268.17,454.55 L269.13,454.79 L270.08,455.01 L271.03,455.22 L271.99,455.42 L272.94,455.60 L273.90,455.78 L274.85,455.94 L275.80,456.09 L276.76,456.23 L277.71,456.36 L278.67,456.47 L279.62,456.58 L280.58,456.68 L281.53,456.77 L282.48,456.84 L283.44,456.91 L284.39,456.97 L285.35,457.02 L286.30,457.07 L287.25,457.10 L288.21,457.13 L289.16,457.15 L290.12,457.17 L291.07,457.17 L292.03,457.17 L292.98,457.17 L293.93,457.16 L294.89,457.14 L295.84,457.12 L296.80,457.09 L297.75,457.06 L298.71,457.02 L299.66,456.98 L300.61,456.93 L301.57,456.88 L302.52,456.83 L303.48,456.77 L304.43,456.70 L305.38,456.63 L306.34,456.56 L307.29,456.48 L308.25,456.40 L309.20,456.31 L310.16,456.21 L311.11,456.12 L312.06,456.01 L313.02,455.90 L313.97,455.79 L314.93,455.67 L315.88,455.54 L316.83,455.41 L317.79,455.28 L318.74,455.14 L319.70,454.99 L320.65,454.84 L321.61,454.68 L322.56,454.52 L323.51,454.35 L324.47,454.18 L325.42,454.00 L326.38,453.82 L327.33,453.63 L328.28,453.43 L329.24,453.23 L330.19,453.02 L331.15,452.81 L332.10,452.59 L333.06,452.37 L334.01,452.14 L334.96,451.91 L335.92,451.67 L336.87,451.43 L337.83,451.18 L338.78,450.93 L339.73,450.67 L340.69,450.41 L341.64,450.15 L342.60,449.88 L343.55,449.61 L344.51,449.33 L345.46,449.05 L346.41,448.77 L347.37,448.48 L348.32,448.19 L349.28,447.90 L350.23,447.60 L351.18,447.31 L352.14,447.00 L353.09,446.70 L354.05,446.39 L355.00,446.08 L355.96,445.77 L356.91,445.45 L357.86,445.13 L358.82,444.81 L359.77,444.49 L360.73,444.16 L361.68,443.84 L362.64,443.51 L363.59,443.18 L364.54,442.85 L365.50,442.51 L366.45,442.18 L367.41,441.84 L368.36,441.50 L369.31,441.16 L370.27,440.82 L371.22,440.48 L372.18,440.13 L373.13,439.79 L374.09,439.44 L375.04,439.10 L375.99,438.75 L376.95,438.40 L377.90,438.05 L378.86,437.71 L379.81,437.36 L380.76,437.01 L381.72,436.66 L382.67,436.31 L383.63,435.96 L384.58,435.61 L385.54,435.26 L386.49,434.91 L387.44,434.56 L388.40,434.21 L389.35,433.85 L390.31,433.50 L391.26,433.15 L392.21,432.79 L393.17,432.44 L394.12,432.08 L395.08,431.73 L396.03,431.37 L396.99,431.01 L397.94,430.65 L398.89,430.29 L399.85,429.93 L400.80,429.56 L401.76,429.19 L402.71,428.83 L403.66,428.46 L404.62,428.08 L405.57,427.71 L406.53,427.33 L407.48,426.95 L408.44,426.57 L409.39,426.19 L410.34,425.80 L411.30,425.42 L412.25,425.02 L413.21,424.63 L414.16,424.23 L415.12,423.84 L416.07,423.43 L417.02,423.03 L417.98,422.63 L418.93,422.22 L419.89,421.81 L420.84,421.40 L421.79,420.99 L422.75,420.58 L423.70,420.16 L424.66,419.75 L425.61,419.33 L426.57,418.91 L427.52,418.50 L428.47,418.08 L429.43,417.66 L430.38,417.24 L431.34,416.82 L432.29,416.40 L433.24,415.98 L434.20,415.56 L435.15,415.14 L436.11,414.73 L437.06,414.31 L438.02,413.89 L438.97,413.48 L439.92,413.06 L440.88,412.65 L441.83,412.23 L442.79,411.82 L443.74,411.41 L444.69,411.00 L445.65,410.59 L446.60,410.19 L447.56,409.78 L448.51,409.37 L449.47,408.96 L450.42,408.56 L451.37,408.15 L452.33,407.75 L453.28,407.34 L454.24,406.94 L455.19,406.54 L456.14,406.13 L457.10,405.73 L458.05,405.32 L459.01,404.92 L459.96,404.52 L460.92,404.11 L461.87,403.71 L462.82,403.30 L463.78,402.90 L464.73,402.49 L465.69,402.08 L466.64,401.68 L467.59,401.27 L468.55,400.86 L469.50,400.45 L470.46,400.04 L471.41,399.63 L472.37,399.21 L473.32,398.80 L474.27,398.39 L475.23,397.97 L476.18,397.56 L477.14,397.15 L478.09,396.73 L479.05,396.32 L480.00,395.90 L480.95,395.49 L481.91,395.07 L482.86,394.65 L483.82,394.24 L484.77,393.82 L485.72,393.41 L486.68,392.99 L487.63,392.58 L488.59,392.16 L489.54,391.75 L490.50,391.34 L491.45,390.92 L492.40,390.51 L493.36,390.10 L494.31,389.69 L495.27,389.28 L496.22,388.87 L497.17,388.46 L498.13,388.05 L499.08,387.64 L500.04,387.24 L500.99,386.83 L501.95,386.43 L502.90,386.02 L503.85,385.62 L504.81,385.22 L505.76,384.82 L506.72,384.42 L507.67,384.02 L508.62,383.62 L509.58,383.22 L510.53,382.82 L511.49,382.42 L512.44,382.03 L513.40,381.63 L514.35,381.23 L515.30,380.84 L516.26,380.44 L517.21,380.05 L518.17,379.65 L519.12,379.26 L520.07,378.86 L521.03,378.47 L521.98,378.08 L522.94,377.68 L523.89,377.29 L524.85,376.89 L525.80,376.50" fill="none" stroke="#FFD600" stroke-width="1.75" stroke-linejoin="round" stroke-linecap="butt"/>
<path d="M240.50,443.90 L241.45,444.37 L242.41,444.83 L243.36,445.29 L244.32,445.75 L245.27,446.21 L246.23,446.66 L247.18,447.12 L248.13,447.56 L249.09,448.01 L250.04,448.45 L251.00,448.89 L251.95,449.32 L252.90,449.74 L253.86,450.16 L254.81,450.57 L255.77,450.97 L256.72,451.37 L257.68,451.76 L258.63,452.14 L259.58,452.50 L260.54,452.86 L261.49,453.21 L262.45,453.55 L263.40,453.88 L264.35,454.19 L265.31,454.49 L266.26,454.78 L267.22,455.06 L268.17,455.32 L269.13,455.57 L270.08,455.81 L271.03,456.02 L271.99,456.23 L272.94,456.42 L273.90,456.60 L274.85,456.77 L275.80,456.92 L276.76,457.06 L277.71,457.19 L278.67,457.30 L279.62,457.41 L280.58,457.50 L281.53,457.58 L282.48,457.66 L283.44,457.72 L284.39,457.77 L285.35,457.82 L286.30,457.85 L287.25,457.88 L288.21,457.89 L289.16,457.90 L290.12,457.91 L291.07,457.90 L292.03,457.89 L292.98,457.87 L293.93,457.84 L294.89,457.81 L295.84,457.77 L296.80,457.73 L297.75,457.68 L298.71,457.63 L299.66,457.57 L300.61,457.51 L301.57,457.44 L302.52,457.37 L303.48,457.29 L304.43,457.20 L305.38,457.11 L306.34,457.02 L307.29,456.91 L308.25,456.80 L309.20,456.68 L310.16,456.56 L311.11,456.43 L312.06,456.29 L313.02,456.15 L313.97,455.99 L314.93,455.83 L315.88,455.66 L316.83,455.49 L317.79,455.30 L318.74,455.11 L319.70,454.91 L320.65,454.70 L321.61,454.48 L322.56,454.25 L323.51,454.01 L324.47,453.76 L325.42,453.50 L326.38,453.24 L327.33,452.96 L328.28,452.67 L329.24,452.38 L330.19,452.07 L331.15,451.76 L332.10,451.44 L333.06,451.11 L334.01,450.77 L334.96,450.42 L335.92,450.07 L336.87,449.71 L337.83,449.34 L338.78,448.97 L339.73,448.59 L340.69,448.20 L341.64,447.81 L342.60,447.41 L343.55,447.01 L344.51,446.60 L345.46,446.19 L346.41,445.77 L347.37,445.35 L348.32,444.93 L349.28,444.50 L350.23,444.07 L351.18,443.64 L352.14,443.20 L353.09,442.76 L354.05,442.32 L355.00,441.88 L355.96,441.43 L356.91,440.99 L357.86,440.54 L358.82,440.09 L359.77,439.64 L360.73,439.18 L361.68,438.73 L362.64,438.27 L363.59,437.81 L364.54,437.35 L365.50,436.89 L366.45,436.43 L367.41,435.96 L368.36,435.49 L369.31,435.02 L370.27,434.55 L371.22,434.08 L372.18,433.60 L373.13,433.12 L374.09,432.64 L375.04,432.16 L375.99,431.68 L376.95,431.19 L377.90,430.70 L378.86,430.21 L379.81,429.72 L380.76,429.23 L381.72,428.73 L382.67,428.23 L383.63,427.73 L384.58,427.23 L385.54,426.72 L386.49,426.22 L387.44,425.71 L388.40,425.20 L389.35,424.68 L390.31,424.17 L391.26,423.65 L392.21,423.14 L393.17,422.62 L394.12,422.10 L395.08,421.58 L396.03,421.06 L396.99,420.54 L397.94,420.01 L398.89,419.49 L399.85,418.96 L400.80,418.44 L401.76,417.91 L402.71,417.39 L403.66,416.86 L404.62,416.33 L405.57,415.80 L406.53,415.28 L407.48,414.75 L408.44,414.22 L409.39,413.69 L410.34,413.17 L411.30,412.64 L412.25,412.12 L413.21,411.59 L414.16,411.06 L415.12,410.54 L416.07,410.01 L417.02,409.49 L417.98,408.97 L418.93,408.44 L419.89,407.92 L420.84,407.39 L421.79,406.87 L422.75,406.34 L423.70,405.81 L424.66,405.29 L425.61,404.76 L426.57,404.23 L427.52,403.70 L428.47,403.17 L429.43,402.64 L430.38,402.11 L431.34,401.58 L432.29,401.05 L433.24,400.51 L434.20,399.97 L435.15,399.44 L436.11,398.90 L437.06,398.36 L438.02,397.82 L438.97,397.27 L439.92,396.73 L440.88,396.18 L441.83,395.63 L442.79,395.08 L443.74,394.53 L444.69,393.97 L445.65,393.42 L446.60,392.86 L447.56,392.30 L448.51,391.75 L449.47,391.19 L450.42,390.63 L451.37,390.07 L452.33,389.51 L453.28,388.94 L454.24,388.38 L455.19,387.82 L456.14,387.26 L457.10,386.70 L458.05,386.14 L459.01,385.58 L459.96,385.02 L460.92,384.46 L461.87,383.90 L462.82,383.35 L463.78,382.79 L464.73,382.24 L465.69,381.68 L466.64,381.13 L467.59,380.58 L468.55,380.03 L469.50,379.48 L470.46,378.94 L471.41,378.40 L472.37,377.86 L473.32,377.32 L474.27,376.78 L475.23,376.24 L476.18,375.71 L477.14,375.18 L478.09,374.65 L479.05,374.12 L480.00,373.59 L480.95,373.07 L481.91,372.55 L482.86,372.03 L483.82,371.51 L484.77,370.99 L485.72,370.48 L486.68,369.97 L487.63,369.46 L488.59,368.95 L489.54,368.44 L490.50,367.94 L491.45,367.43 L492.40,366.93 L493.36,366.44 L494.31,365.94 L495.27,365.45 L496.22,364.95 L497.17,364.46 L498.13,363.97 L499.08,363.49 L500.04,363.00 L500.99,362.52 L501.95,362.04 L502.90,361.56 L503.85,361.08 L504.81,360.61 L505.76,360.13 L506.72,359.66 L507.67,359.19 L508.62,358.72 L509.58,358.25 L510.53,357.78 L511.49,357.32 L512.44,356.85 L513.40,356.38 L514.35,355.92 L515.30,355.46 L516.26,355.00 L517.21,354.53 L518.17,354.07 L519.12,353.61 L520.07,353.15 L521.03,352.69 L521.98,352.23 L522.94,351.77 L523.89,351.32 L524.85,350.86 L525.80,350.40" fill="none" stroke="#00BFBF" stroke-width="1.75" stroke-linejoin="round" stroke-linecap="butt"/>
<path d="M240.50,443.90 L241.45,444.39 L242.41,444.88 L243.36,445.37 L244.32,445.86 L245.27,446.34 L246.23,446.83 L247.18,447.31 L248.13,447.78 L249.09,448.25 L250.04,448.72 L251.00,449.18 L251.95,449.64 L252.90,450.09 L253.86,450.53 L254.81,450.97 L255.77,451.39 L256.72,451.81 L257.68,452.22 L258.63,452.63 L259.58,453.02 L260.54,453.40 L261.49,453.77 L262.45,454.13 L263.40,454.48 L264.35,454.81 L265.31,455.13 L266.26,455.44 L267.22,455.74 L268.17,456.02 L269.13,456.28 L270.08,456.53 L271.03,456.77 L271.99,456.98 L272.94,457.19 L273.90,457.38 L274.85,457.56 L275.80,457.72 L276.76,457.87 L277.71,458.00 L278.67,458.13 L279.62,458.24 L280.58,458.33 L281.53,458.42 L282.48,458.49 L283.44,458.56 L284.39,458.61 L285.35,458.65 L286.30,458.67 L287.25,458.69 L288.21,458.70 L289.16,458.70 L290.12,458.68 L291.07,458.66 L292.03,458.63 L292.98,458.59 L293.93,458.54 L294.89,458.48 L295.84,458.42 L296.80,458.35 L297.75,458.27 L298.71,458.18 L299.66,458.08 L300.61,457.98 L301.57,457.87 L302.52,457.75 L303.48,457.62 L304.43,457.48 L305.38,457.34 L306.34,457.18 L307.29,457.02 L308.25,456.85 L309.20,456.66 L310.16,456.47 L311.11,456.27 L312.06,456.06 L313.02,455.84 L313.97,455.61 L314.93,455.37 L315.88,455.11 L316.83,454.85 L317.79,454.58 L318.74,454.29 L319.70,453.99 L320.65,453.69 L321.61,453.37 L322.56,453.04 L323.51,452.69 L324.47,452.34 L325.42,451.97 L326.38,451.59 L327.33,451.19 L328.28,450.79 L329.24,450.37 L330.19,449.94 L331.15,449.50 L332.10,449.05 L333.06,448.59 L334.01,448.12 L334.96,447.64 L335.92,447.15 L336.87,446.65 L337.83,446.14 L338.78,445.62 L339.73,445.10 L340.69,444.57 L341.64,444.03 L342.60,443.48 L343.55,442.93 L344.51,442.37 L345.46,441.81 L346.41,441.24 L347.37,440.66 L348.32,440.08 L349.28,439.50 L350.23,438.91 L351.18,438.32 L352.14,437.72 L353.09,437.12 L354.05,436.52 L355.00,435.92 L355.96,435.31 L356.91,434.71 L357.86,434.10 L358.82,433.48 L359.77,432.87 L360.73,432.26 L361.68,431.64 L362.64,431.02 L363.59,430.40 L364.54,429.78 L365.50,429.15 L366.45,428.53 L367.41,427.90 L368.36,427.27 L369.31,426.64 L370.27,426.00 L371.22,425.37 L372.18,424.73 L373.13,424.10 L374.09,423.46 L375.04,422.82 L375.99,422.17 L376.95,421.53 L377.90,420.88 L378.86,420.24 L379.81,419.59 L380.76,418.94 L381.72,418.29 L382.67,417.64 L383.63,416.98 L384.58,416.33 L385.54,415.67 L386.49,415.02 L387.44,414.36 L388.40,413.70 L389.35,413.04 L390.31,412.38 L391.26,411.71 L392.21,411.05 L393.17,410.38 L394.12,409.71 L395.08,409.04 L396.03,408.37 L396.99,407.69 L397.94,407.02 L398.89,406.34 L399.85,405.66 L400.80,404.98 L401.76,404.30 L402.71,403.61 L403.66,402.92 L404.62,402.23 L405.57,401.54 L406.53,400.85 L407.48,400.15 L408.44,399.46 L409.39,398.76 L410.34,398.06 L411.30,397.35 L412.25,396.64 L413.21,395.94 L414.16,395.22 L415.12,394.51 L416.07,393.80 L417.02,393.08 L417.98,392.36 L418.93,391.64 L419.89,390.92 L420.84,390.20 L421.79,389.48 L422.75,388.76 L423.70,388.03 L424.66,387.31 L425.61,386.58 L426.57,385.86 L427.52,385.13 L428.47,384.40 L429.43,383.68 L430.38,382.95 L431.34,382.23 L432.29,381.50 L433.24,380.78 L434.20,380.05 L435.15,379.33 L436.11,378.61 L437.06,377.89 L438.02,377.17 L438.97,376.45 L439.92,375.74 L440.88,375.02 L441.83,374.31 L442.79,373.60 L443.74,372.89 L444.69,372.18 L445.65,371.48 L446.60,370.77 L447.56,370.07 L448.51,369.37 L449.47,368.67 L450.42,367.98 L451.37,367.28 L452.33,366.59 L453.28,365.90 L454.24,365.21 L455.19,364.52 L456.14,363.84 L457.10,363.16 L458.05,362.48 L459.01,361.80 L459.96,361.12 L460.92,360.45 L461.87,359.78 L462.82,359.11 L463.78,358.44 L464.73,357.77 L465.69,357.11 L466.64,356.45 L467.59,355.79 L468.55,355.14 L469.50,354.48 L470.46,353.83 L471.41,353.18 L472.37,352.53 L473.32,351.89 L474.27,351.24 L475.23,350.60 L476.18,349.97 L477.14,349.33 L478.09,348.69 L479.05,348.06 L480.00,347.43 L480.95,346.81 L481.91,346.18 L482.86,345.56 L483.82,344.94 L484.77,344.32 L485.72,343.70 L486.68,343.09 L487.63,342.48 L488.59,341.87 L489.54,341.26 L490.50,340.65 L491.45,340.05 L492.40,339.45 L493.36,338.85 L494.31,338.25 L495.27,337.65 L496.22,337.06 L497.17,336.47 L498.13,335.88 L499.08,335.29 L500.04,334.71 L500.99,334.13 L501.95,333.55 L502.90,332.97 L503.85,332.39 L504.81,331.81 L505.76,331.24 L506.72,330.66 L507.67,330.09 L508.62,329.52 L509.58,328.95 L510.53,328.38 L511.49,327.82 L512.44,327.25 L513.40,326.69 L514.35,326.12 L515.30,325.56 L516.26,325.00 L517.21,324.43 L518.17,323.87 L519.12,323.31 L520.07,322.75 L521.03,322.19 L521.98,321.63 L522.94,321.07 L523.89,320.52 L524.85,319.96 L525.80,319.40" fill="none" stroke="#FF99C7" stroke-width="1.75" stroke-linejoin="round" stroke-linecap="butt"/>
<path d="M240.50,443.90 L241.45,444.43 L242.41,444.95 L243.36,445.47 L244.32,445.99 L245.27,446.51 L246.23,447.02 L247.18,447.54 L248.13,448.04 L249.09,448.55 L250.04,449.05 L251.00,449.54 L251.95,450.03 L252.90,450.51 L253.86,450.99 L254.81,451.45 L255.77,451.91 L256.72,452.37 L257.68,452.81 L258.63,453.24 L259.58,453.66 L260.54,454.08 L261.49,454.48 L262.45,454.87 L263.40,455.25 L264.35,455.61 L265.31,455.96 L266.26,456.30 L267.22,456.62 L268.17,456.93 L269.13,457.23 L270.08,457.51 L271.03,457.77 L271.99,458.01 L272.94,458.25 L273.90,458.46 L274.85,458.66 L275.80,458.84 L276.76,459.01 L277.71,459.17 L278.67,459.30 L279.62,459.43 L280.58,459.53 L281.53,459.62 L282.48,459.70 L283.44,459.76 L284.39,459.80 L285.35,459.83 L286.30,459.85 L287.25,459.84 L288.21,459.83 L289.16,459.80 L290.12,459.75 L291.07,459.69 L292.03,459.61 L292.98,459.52 L293.93,459.41 L294.89,459.28 L295.84,459.15 L296.80,458.99 L297.75,458.83 L298.71,458.64 L299.66,458.44 L300.61,458.23 L301.57,458.00 L302.52,457.76 L303.48,457.51 L304.43,457.24 L305.38,456.96 L306.34,456.66 L307.29,456.36 L308.25,456.04 L309.20,455.70 L310.16,455.36 L311.11,455.00 L312.06,454.64 L313.02,454.26 L313.97,453.87 L314.93,453.47 L315.88,453.05 L316.83,452.63 L317.79,452.20 L318.74,451.76 L319.70,451.30 L320.65,450.84 L321.61,450.37 L322.56,449.89 L323.51,449.40 L324.47,448.91 L325.42,448.40 L326.38,447.89 L327.33,447.37 L328.28,446.84 L329.24,446.30 L330.19,445.76 L331.15,445.21 L332.10,444.65 L333.06,444.08 L334.01,443.50 L334.96,442.92 L335.92,442.33 L336.87,441.73 L337.83,441.12 L338.78,440.51 L339.73,439.89 L340.69,439.26 L341.64,438.62 L342.60,437.97 L343.55,437.32 L344.51,436.66 L345.46,435.99 L346.41,435.31 L347.37,434.62 L348.32,433.93 L349.28,433.23 L350.23,432.52 L351.18,431.80 L352.14,431.08 L353.09,430.35 L354.05,429.61 L355.00,428.86 L355.96,428.10 L356.91,427.34 L357.86,426.57 L358.82,425.79 L359.77,425.01 L360.73,424.22 L361.68,423.42 L362.64,422.61 L363.59,421.80 L364.54,420.99 L365.50,420.17 L366.45,419.34 L367.41,418.51 L368.36,417.67 L369.31,416.83 L370.27,415.98 L371.22,415.13 L372.18,414.28 L373.13,413.42 L374.09,412.56 L375.04,411.69 L375.99,410.83 L376.95,409.96 L377.90,409.08 L378.86,408.20 L379.81,407.33 L380.76,406.44 L381.72,405.56 L382.67,404.68 L383.63,403.79 L384.58,402.90 L385.54,402.01 L386.49,401.12 L387.44,400.23 L388.40,399.34 L389.35,398.45 L390.31,397.55 L391.26,396.66 L392.21,395.76 L393.17,394.86 L394.12,393.96 L395.08,393.06 L396.03,392.16 L396.99,391.26 L397.94,390.36 L398.89,389.46 L399.85,388.55 L400.80,387.65 L401.76,386.74 L402.71,385.84 L403.66,384.93 L404.62,384.02 L405.57,383.12 L406.53,382.21 L407.48,381.30 L408.44,380.39 L409.39,379.48 L410.34,378.57 L411.30,377.66 L412.25,376.75 L413.21,375.84 L414.16,374.93 L415.12,374.02 L416.07,373.11 L417.02,372.20 L417.98,371.29 L418.93,370.38 L419.89,369.47 L420.84,368.56 L421.79,367.65 L422.75,366.74 L423.70,365.83 L424.66,364.92 L425.61,364.01 L426.57,363.10 L427.52,362.20 L428.47,361.29 L429.43,360.38 L430.38,359.48 L431.34,358.57 L432.29,357.66 L433.24,356.76 L434.20,355.86 L435.15,354.95 L436.11,354.05 L437.06,353.15 L438.02,352.25 L438.97,351.35 L439.92,350.45 L440.88,349.56 L441.83,348.66 L442.79,347.77 L443.74,346.87 L444.69,345.98 L445.65,345.09 L446.60,344.20 L447.56,343.32 L448.51,342.43 L449.47,341.55 L450.42,340.67 L451.37,339.80 L452.33,338.92 L453.28,338.05 L454.24,337.18 L455.19,336.31 L456.14,335.45 L457.10,334.59 L458.05,333.74 L459.01,332.88 L459.96,332.03 L460.92,331.19 L461.87,330.35 L462.82,329.51 L463.78,328.67 L464.73,327.85 L465.69,327.02 L466.64,326.20 L467.59,325.38 L468.55,324.57 L469.50,323.77 L470.46,322.96 L471.41,322.17 L472.37,321.38 L473.32,320.59 L474.27,319.81 L475.23,319.03 L476.18,318.26 L477.14,317.50 L478.09,316.74 L479.05,315.99 L480.00,315.24 L480.95,314.50 L481.91,313.76 L482.86,313.03 L483.82,312.30 L484.77,311.58 L485.72,310.87 L486.68,310.17 L487.63,309.47 L488.59,308.77 L489.54,308.08 L490.50,307.40 L491.45,306.73 L492.40,306.06 L493.36,305.40 L494.31,304.74 L495.27,304.09 L496.22,303.45 L497.17,302.82 L498.13,302.19 L499.08,301.57 L500.04,300.96 L500.99,300.35 L501.95,299.75 L502.90,299.15 L503.85,298.56 L504.81,297.98 L505.76,297.40 L506.72,296.82 L507.67,296.25 L508.62,295.69 L509.58,295.12 L510.53,294.57 L511.49,294.01 L512.44,293.46 L513.40,292.92 L514.35,292.37 L515.30,291.83 L516.26,291.29 L517.21,290.76 L518.17,290.22 L519.12,289.69 L520.07,289.16 L521.03,288.63 L521.98,288.10 L522.94,287.57 L523.89,287.05 L524.85,286.52 L525.80,286.00" fill="none" stroke="#A3142E" stroke-width="1.75" stroke-linejoin="round" stroke-linecap="butt"/>
</g>
<rect x="240.50" y="279.60" width="285.30" height="194.90" fill="none" stroke="#555555" stroke-width="0.7"/>
<line x1="269.03" y1="474.50" x2="269.03" y2="471.50" stroke="#444" stroke-width="0.8"/>
<line x1="269.03" y1="279.60" x2="269.03" y2="282.60" stroke="#444" stroke-width="0.8"/>
<line x1="297.56" y1="474.50" x2="297.56" y2="471.50" stroke="#444" stroke-width="0.8"/>
<line x1="297.56" y1="279.60" x2="297.56" y2="282.60" stroke="#444" stroke-width="0.8"/>
<line x1="326.09" y1="474.50" x2="326.09" y2="471.50" stroke="#444" stroke-width="0.8"/>
<line x1="326.09" y1="279.60" x2="326.09" y2="282.60" stroke="#444" stroke-width="0.8"/>
<line x1="354.62" y1="474.50" x2="354.62" y2="471.50" stroke="#444" stroke-width="0.8"/>
<line x1="354.62" y1="279.60" x2="354.62" y2="282.60" stroke="#444" stroke-width="0.8"/>
<line x1="383.15" y1="474.50" x2="383.15" y2="471.50" stroke="#444" stroke-width="0.8"/>
<line x1="383.15" y1="279.60" x2="383.15" y2="282.60" stroke="#444" stroke-width="0.8"/>
<line x1="411.68" y1="474.50" x2="411.68" y2="471.50" stroke="#444" stroke-width="0.8"/>
<line x1="411.68" y1="279.60" x2="411.68" y2="282.60" stroke="#444" stroke-width="0.8"/>
<line x1="440.21" y1="474.50" x2="440.21" y2="471.50" stroke="#444" stroke-width="0.8"/>
<line x1="440.21" y1="279.60" x2="440.21" y2="282.60" stroke="#444" stroke-width="0.8"/>
<line x1="468.74" y1="474.50" x2="468.74" y2="471.50" stroke="#444" stroke-width="0.8"/>
<line x1="468.74" y1="279.60" x2="468.74" y2="282.60" stroke="#444" stroke-width="0.8"/>
<line x1="497.27" y1="474.50" x2="497.27" y2="471.50" stroke="#444" stroke-width="0.8"/>
<line x1="497.27" y1="279.60" x2="497.27" y2="282.60" stroke="#444" stroke-width="0.8"/>
<line x1="240.50" y1="455.01" x2="243.50" y2="455.01" stroke="#444" stroke-width="0.8"/>
<line x1="525.80" y1="455.01" x2="522.80" y2="455.01" stroke="#444" stroke-width="0.8"/>
<line x1="240.50" y1="435.52" x2="243.50" y2="435.52" stroke="#444" stroke-width="0.8"/>
<line x1="525.80" y1="435.52" x2="522.80" y2="435.52" stroke="#444" stroke-width="0.8"/>
<line x1="240.50" y1="416.03" x2="243.50" y2="416.03" stroke="#444" stroke-width="0.8"/>
<line x1="525.80" y1="416.03" x2="522.80" y2="416.03" stroke="#444" stroke-width="0.8"/>
<line x1="240.50" y1="396.54" x2="243.50" y2="396.54" stroke="#444" stroke-width="0.8"/>
<line x1="525.80" y1="396.54" x2="522.80" y2="396.54" stroke="#444" stroke-width="0.8"/>
<line x1="240.50" y1="377.05" x2="243.50" y2="377.05" stroke="#444" stroke-width="0.8"/>
<line x1="525.80" y1="377.05" x2="522.80" y2="377.05" stroke="#444" stroke-width="0.8"/>
<line x1="240.50" y1="357.56" x2="243.50" y2="357.56" stroke="#444" stroke-width="0.8"/>
<line x1="525.80" y1="357.56" x2="522.80" y2="357.56" stroke="#444" stroke-width="0.8"/>
<line x1="240.50" y1="338.07" x2="243.50" y2="338.07" stroke="#444" stroke-width="0.8"/>
<line x1="525.80" y1="338.07" x2="522.80" y2="338.07" stroke="#444" stroke-width="0.8"/>
<line x1="240.50" y1="318.58" x2="243.50" y2="318.58" stroke="#444" stroke-width="0.8"/>
<line x1="525.80" y1="318.58" x2="522.80" y2="318.58" stroke="#444" stroke-width="0.8"/>
<line x1="240.50" y1="299.09" x2="243.50" y2="299.09" stroke="#444" stroke-width="0.8"/>
<line x1="525.80" y1="299.09" x2="522.80" y2="299.09" stroke="#444" stroke-width="0.8"/>
<text transform="translate(240.50,485.70) scale(0.8,1)" text-anchor="middle" font-size="9.6" fill="#1c1c1c" stroke="#1c1c1c" stroke-width="0.15">0</text>
<text transform="translate(269.03,485.70) scale(0.8,1)" text-anchor="middle" font-size="9.6" fill="#1c1c1c" stroke="#1c1c1c" stroke-width="0.15">5</text>
<text transform="translate(297.56,485.70) scale(0.8,1)" text-anchor="middle" font-size="9.6" fill="#1c1c1c" stroke="#1c1c1c" stroke-width="0.15">10</text>
<text transform="translate(326.09,485.70) scale(0.8,1)" text-anchor="middle" font-size="9.6" fill="#1c1c1c" stroke="#1c1c1c" stroke-width="0.15">15</text>
<text transform="translate(354.62,485.70) scale(0.8,1)" text-anchor="middle" font-size="9.6" fill="#1c1c1c" stroke="#1c1c1c" stroke-width="0.15">20</text>
<text transform="translate(383.15,485.70) scale(0.8,1)" text-anchor="middle" font-size="9.6" fill="#1c1c1c" stroke="#1c1c1c" stroke-width="0.15">25</text>
<text transform="translate(411.68,485.70) scale(0.8,1)" text-anchor="middle" font-size="9.6" fill="#1c1c1c" stroke="#1c1c1c" stroke-width="0.15">30</text>
<text transform="translate(440.21,485.70) scale(0.8,1)" text-anchor="middle" font-size="9.6" fill="#1c1c1c" stroke="#1c1c1c" stroke-width="0.15">35</text>
<text transform="translate(468.74,485.70) scale(0.8,1)" text-anchor="middle" font-size="9.6" fill="#1c1c1c" stroke="#1c1c1c" stroke-width="0.15">40</text>
<text transform="translate(497.27,485.70) scale(0.8,1)" text-anchor="middle" font-size="9.6" fill="#1c1c1c" stroke="#1c1c1c" stroke-width="0.15">45</text>
<text transform="translate(525.80,485.70) scale(0.8,1)" text-anchor="middle" font-size="9.6" fill="#1c1c1c" stroke="#1c1c1c" stroke-width="0.15">50</text>
<text transform="translate(238.10,478.10) scale(0.8,1)" text-anchor="end" font-size="9.6" fill="#1c1c1c" stroke="#1c1c1c" stroke-width="0.15">270</text>
<text transform="translate(238.10,458.61) scale(0.8,1)" text-anchor="end" font-size="9.6" fill="#1c1c1c" stroke="#1c1c1c" stroke-width="0.15">280</text>
<text transform="translate(238.10,439.12) scale(0.8,1)" text-anchor="end" font-size="9.6" fill="#1c1c1c" stroke="#1c1c1c" stroke-width="0.15">290</text>
<text transform="translate(238.10,419.63) scale(0.8,1)" text-anchor="end" font-size="9.6" fill="#1c1c1c" stroke="#1c1c1c" stroke-width="0.15">300</text>
<text transform="translate(238.10,400.14) scale(0.8,1)" text-anchor="end" font-size="9.6" fill="#1c1c1c" stroke="#1c1c1c" stroke-width="0.15">310</text>
<text transform="translate(238.10,380.65) scale(0.8,1)" text-anchor="end" font-size="9.6" fill="#1c1c1c" stroke="#1c1c1c" stroke-width="0.15">320</text>
<text transform="translate(238.10,361.16) scale(0.8,1)" text-anchor="end" font-size="9.6" fill="#1c1c1c" stroke="#1c1c1c" stroke-width="0.15">330</text>
<text transform="translate(238.10,341.67) scale(0.8,1)" text-anchor="end" font-size="9.6" fill="#1c1c1c" stroke="#1c1c1c" stroke-width="0.15">340</text>
<text transform="translate(238.10,322.18) scale(0.8,1)" text-anchor="end" font-size="9.6" fill="#1c1c1c" stroke="#1c1c1c" stroke-width="0.15">350</text>
<text transform="translate(238.10,302.69) scale(0.8,1)" text-anchor="end" font-size="9.6" fill="#1c1c1c" stroke="#1c1c1c" stroke-width="0.15">360</text>
<text transform="translate(238.10,283.20) scale(0.8,1)" text-anchor="end" font-size="9.6" fill="#1c1c1c" stroke="#1c1c1c" stroke-width="0.15">370</text>
<rect x="249.80" y="287.05" width="63.00" height="65.60" fill="#fff" stroke="#555555" stroke-width="0.8"/>
<line x1="254.40" y1="295.00" x2="277.90" y2="295.00" stroke="#DE7D00" stroke-width="1.9"/>
<text transform="translate(279.90,298.10) scale(0.963,1)" font-family="Liberation Serif, serif" font-size="10.32" fill="#1c1c1c" stroke="#1c1c1c" stroke-width="0.12">α</text>
<text transform="translate(287.20,298.10) scale(0.875,1)" font-weight="bold" font-size="8.6" fill="#1c1c1c" stroke="#1c1c1c" stroke-width="0.25">= 0.80</text>
<line x1="254.40" y1="307.30" x2="277.90" y2="307.30" stroke="#FFD600" stroke-width="1.9"/>
<text transform="translate(279.90,310.40) scale(0.963,1)" font-family="Liberation Serif, serif" font-size="10.32" fill="#1c1c1c" stroke="#1c1c1c" stroke-width="0.12">α</text>
<text transform="translate(287.20,310.40) scale(0.875,1)" font-weight="bold" font-size="8.6" fill="#1c1c1c" stroke="#1c1c1c" stroke-width="0.25">= 0.85</text>
<line x1="254.40" y1="319.80" x2="277.90" y2="319.80" stroke="#00BFBF" stroke-width="1.9"/>
<text transform="translate(279.90,322.90) scale(0.963,1)" font-family="Liberation Serif, serif" font-size="10.32" fill="#1c1c1c" stroke="#1c1c1c" stroke-width="0.12">α</text>
<text transform="translate(287.20,322.90) scale(0.875,1)" font-weight="bold" font-size="8.6" fill="#1c1c1c" stroke="#1c1c1c" stroke-width="0.25">= 0.90</text>
<line x1="254.40" y1="332.20" x2="277.90" y2="332.20" stroke="#FF99C7" stroke-width="1.9"/>
<text transform="translate(279.90,335.30) scale(0.963,1)" font-family="Liberation Serif, serif" font-size="10.32" fill="#1c1c1c" stroke="#1c1c1c" stroke-width="0.12">α</text>
<text transform="translate(287.20,335.30) scale(0.875,1)" font-weight="bold" font-size="8.6" fill="#1c1c1c" stroke="#1c1c1c" stroke-width="0.25">= 0.95</text>
<line x1="254.40" y1="344.60" x2="277.90" y2="344.60" stroke="#A3142E" stroke-width="1.9"/>
<text transform="translate(279.90,347.70) scale(0.963,1)" font-family="Liberation Serif, serif" font-size="10.32" fill="#1c1c1c" stroke="#1c1c1c" stroke-width="0.12">α</text>
<text transform="translate(287.20,347.70) scale(0.875,1)" font-weight="bold" font-size="8.6" fill="#1c1c1c" stroke="#1c1c1c" stroke-width="0.25">= 1.00</text>
<text x="383.2" y="499.1" text-anchor="middle" font-weight="bold" font-size="11.6" textLength="60.4" lengthAdjust="spacingAndGlyphs" fill="#1c1c1c" stroke="#1c1c1c" stroke-width="0.3">Time(Years)</text>
<text transform="translate(219.3,377.5) rotate(-90)" text-anchor="middle" font-weight="bold" font-size="10.6" stroke="#1c1c1c" stroke-width="0.3" textLength="145.2" lengthAdjust="spacingAndGlyphs" fill="#1c1c1c">TB recovered individuals</text>
<text x="383.7" y="522.7" text-anchor="middle" font-family="Liberation Serif, serif" font-size="14.2" fill="#1c1c1c">(i)</text>
</g>
</svg>
</body></html>
